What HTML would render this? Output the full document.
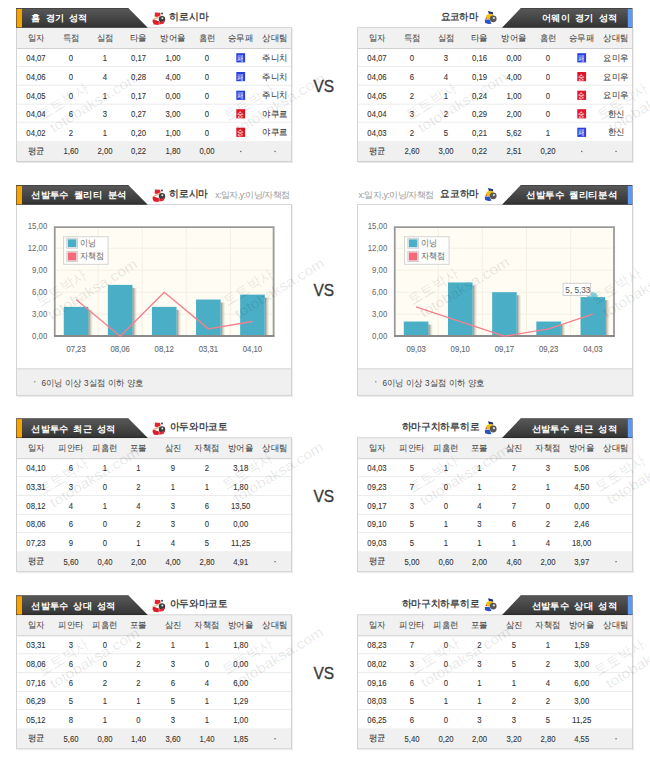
<!DOCTYPE html>
<html><head><meta charset="utf-8"><title>stats</title>
<style>
html,body{margin:0;padding:0;background:#fff;}
body{width:650px;height:767px;overflow:hidden;position:relative;font-family:"Liberation Sans", sans-serif;}
</style></head><body>
<svg width="650" height="767" viewBox="0 0 650 767" style="position:absolute;left:0;top:0" font-family='"Liberation Sans", sans-serif'><defs><linearGradient id="hg" x1="0" y1="0" x2="0" y2="1"><stop offset="0" stop-color="#3c3c3c"/><stop offset="0.07" stop-color="#565656"/><stop offset="0.9" stop-color="#373737"/><stop offset="1" stop-color="#262626"/></linearGradient><linearGradient id="sh" x1="0" y1="0" x2="1" y2="0"><stop offset="0" stop-color="#77736a" stop-opacity="0.9"/><stop offset="1" stop-color="#c8c2b0" stop-opacity="0.05"/></linearGradient></defs><g transform="translate(152,11.4)"><path d="M1,0.5 L2.6,1 L2,2.6 Z" fill="#c8e4f0"/><path d="M3,1 L8.2,1.3 L8.6,4.2 L5.2,5.7 L2.6,5 Z" fill="#e2262f"/><circle cx="10" cy="2" r="1" fill="#1f4f55"/><path d="M1.5,7.2 L8.2,4.2 L8.8,5.6 L2.2,8.4 Z" fill="#e6b58a"/><circle cx="10" cy="7.8" r="3.2" fill="#3c3c3c"/><circle cx="10.3" cy="6.9" r="1" fill="#e8e8e8"/><path d="M0.8,7.8 L7,9.8 L6.7,13.5 L1.9,13.1 L0.6,10.5 Z" fill="#dc1e2a"/><path d="M7,10.9 L13,9 L11.5,12.4 L7.4,13.1 Z" fill="#e02a34"/></g><text x="169.12" y="19.90" font-size="9.6" fill="#444" font-weight="bold" textLength="39.36" lengthAdjust="spacingAndGlyphs" >히로시마</text><g transform="translate(484.5,11.0)"><path d="M3.5,0 L8.5,1.2 L8.7,3.4 L4.5,3.2 Z" fill="#1e2d7a"/><path d="M2,4 L6,2.6 L9,4 L8,8.6 L3.5,8.2 L1.5,6.5 Z" fill="#f0c010"/><circle cx="1.8" cy="7.2" r="0.8" fill="#d84020"/><circle cx="8.7" cy="7.8" r="3.4" fill="#585858"/><circle cx="9.4" cy="7" r="1.1" fill="#e0e0e0"/><path d="M0.3,8.6 L5,8.6 L7,12.8 L4,13 L0.6,12 Z" fill="#2a52c0"/></g><text x="440.52" y="19.90" font-size="9.6" fill="#444" font-weight="bold" textLength="37.96" lengthAdjust="spacingAndGlyphs" >요코하마</text><rect x="16" y="27" width="276" height="21.50" fill="#f1f1f1"/><rect x="16" y="141.00" width="276" height="20.50" fill="#f0f0f0"/><path d="M16,48.50 H292" stroke="#d0d0d0" stroke-width="1"/><path d="M16,66.50 H292" stroke="#ececec" stroke-width="1"/><path d="M16,85.30 H292" stroke="#ececec" stroke-width="1"/><path d="M16,104.20 H292" stroke="#ececec" stroke-width="1"/><path d="M16,122.20 H292" stroke="#ececec" stroke-width="1"/><path d="M16.5,27 V161.5" stroke="#d4d4d4" stroke-width="1"/><path d="M291.5,27 V162.0" stroke="#d4d4d4" stroke-width="1"/><path d="M292.5,28 V163.0" stroke="#eeeeee" stroke-width="1"/><path d="M16,27.5 H292" stroke="#d8d8d8" stroke-width="1"/><path d="M16,161.5 H292" stroke="#d0d0d0" stroke-width="1"/><path d="M17,162.5 H293" stroke="#eaeaea" stroke-width="1"/><text x="36.00" y="40.90" font-size="9.2" fill="#444" stroke="#444" stroke-width="0.05" text-anchor="middle" font-weight="normal" textLength="16.80" lengthAdjust="spacingAndGlyphs">일자</text><text x="71.00" y="40.90" font-size="9.2" fill="#444" stroke="#444" stroke-width="0.05" text-anchor="middle" font-weight="normal" textLength="16.80" lengthAdjust="spacingAndGlyphs">득점</text><text x="105.00" y="40.90" font-size="9.2" fill="#444" stroke="#444" stroke-width="0.05" text-anchor="middle" font-weight="normal" textLength="16.80" lengthAdjust="spacingAndGlyphs">실점</text><text x="138.50" y="40.90" font-size="9.2" fill="#444" stroke="#444" stroke-width="0.05" text-anchor="middle" font-weight="normal" textLength="16.80" lengthAdjust="spacingAndGlyphs">타율</text><text x="173.00" y="40.90" font-size="9.2" fill="#444" stroke="#444" stroke-width="0.05" text-anchor="middle" font-weight="normal" textLength="25.20" lengthAdjust="spacingAndGlyphs">방어율</text><text x="207.00" y="40.90" font-size="9.2" fill="#444" stroke="#444" stroke-width="0.05" text-anchor="middle" font-weight="normal" textLength="16.80" lengthAdjust="spacingAndGlyphs">홈런</text><text x="240.70" y="40.90" font-size="9.2" fill="#444" stroke="#444" stroke-width="0.05" text-anchor="middle" font-weight="normal" textLength="25.20" lengthAdjust="spacingAndGlyphs">승무패</text><text x="275.00" y="40.90" font-size="9.2" fill="#444" stroke="#444" stroke-width="0.05" text-anchor="middle" font-weight="normal" textLength="25.20" lengthAdjust="spacingAndGlyphs">상대팀</text><text x="36.00" y="61.00" font-size="9.2" fill="#333" stroke="#333" stroke-width="0.1" text-anchor="middle" font-weight="normal" textLength="19.30" lengthAdjust="spacingAndGlyphs">04,07</text><text x="71.00" y="61.00" font-size="9.2" fill="#333" stroke="#333" stroke-width="0.1" text-anchor="middle" font-weight="normal" textLength="4.30" lengthAdjust="spacingAndGlyphs">0</text><text x="105.00" y="61.00" font-size="9.2" fill="#333" stroke="#333" stroke-width="0.1" text-anchor="middle" font-weight="normal" textLength="4.30" lengthAdjust="spacingAndGlyphs">1</text><text x="138.50" y="61.00" font-size="9.2" fill="#333" stroke="#333" stroke-width="0.1" text-anchor="middle" font-weight="normal" textLength="15.00" lengthAdjust="spacingAndGlyphs">0,17</text><text x="173.00" y="61.00" font-size="9.2" fill="#333" stroke="#333" stroke-width="0.1" text-anchor="middle" font-weight="normal" textLength="15.00" lengthAdjust="spacingAndGlyphs">1,00</text><text x="207.00" y="61.00" font-size="9.2" fill="#333" stroke="#333" stroke-width="0.1" text-anchor="middle" font-weight="normal" textLength="4.30" lengthAdjust="spacingAndGlyphs">0</text><rect x="236.30" y="53.20" width="8.8" height="9.2" fill="#2840dc"/><text x="240.70" y="60.80" font-size="7.5" fill="#fff" text-anchor="middle" textLength="6.6" lengthAdjust="spacingAndGlyphs">패</text><text x="275.00" y="60.70" font-size="9.2" fill="#333" stroke="#333" stroke-width="0.05" text-anchor="middle" font-weight="normal" textLength="25.20" lengthAdjust="spacingAndGlyphs">주니치</text><text x="36.00" y="79.80" font-size="9.2" fill="#333" stroke="#333" stroke-width="0.1" text-anchor="middle" font-weight="normal" textLength="19.30" lengthAdjust="spacingAndGlyphs">04,06</text><text x="71.00" y="79.80" font-size="9.2" fill="#333" stroke="#333" stroke-width="0.1" text-anchor="middle" font-weight="normal" textLength="4.30" lengthAdjust="spacingAndGlyphs">0</text><text x="105.00" y="79.80" font-size="9.2" fill="#333" stroke="#333" stroke-width="0.1" text-anchor="middle" font-weight="normal" textLength="4.30" lengthAdjust="spacingAndGlyphs">4</text><text x="138.50" y="79.80" font-size="9.2" fill="#333" stroke="#333" stroke-width="0.1" text-anchor="middle" font-weight="normal" textLength="15.00" lengthAdjust="spacingAndGlyphs">0,28</text><text x="173.00" y="79.80" font-size="9.2" fill="#333" stroke="#333" stroke-width="0.1" text-anchor="middle" font-weight="normal" textLength="15.00" lengthAdjust="spacingAndGlyphs">4,00</text><text x="207.00" y="79.80" font-size="9.2" fill="#333" stroke="#333" stroke-width="0.1" text-anchor="middle" font-weight="normal" textLength="4.30" lengthAdjust="spacingAndGlyphs">0</text><rect x="236.30" y="72.00" width="8.8" height="9.2" fill="#2840dc"/><text x="240.70" y="79.60" font-size="7.5" fill="#fff" text-anchor="middle" textLength="6.6" lengthAdjust="spacingAndGlyphs">패</text><text x="275.00" y="79.50" font-size="9.2" fill="#333" stroke="#333" stroke-width="0.05" text-anchor="middle" font-weight="normal" textLength="25.20" lengthAdjust="spacingAndGlyphs">주니치</text><text x="36.00" y="98.50" font-size="9.2" fill="#333" stroke="#333" stroke-width="0.1" text-anchor="middle" font-weight="normal" textLength="19.30" lengthAdjust="spacingAndGlyphs">04,05</text><text x="71.00" y="98.50" font-size="9.2" fill="#333" stroke="#333" stroke-width="0.1" text-anchor="middle" font-weight="normal" textLength="4.30" lengthAdjust="spacingAndGlyphs">0</text><text x="105.00" y="98.50" font-size="9.2" fill="#333" stroke="#333" stroke-width="0.1" text-anchor="middle" font-weight="normal" textLength="4.30" lengthAdjust="spacingAndGlyphs">1</text><text x="138.50" y="98.50" font-size="9.2" fill="#333" stroke="#333" stroke-width="0.1" text-anchor="middle" font-weight="normal" textLength="15.00" lengthAdjust="spacingAndGlyphs">0,17</text><text x="173.00" y="98.50" font-size="9.2" fill="#333" stroke="#333" stroke-width="0.1" text-anchor="middle" font-weight="normal" textLength="15.00" lengthAdjust="spacingAndGlyphs">0,00</text><text x="207.00" y="98.50" font-size="9.2" fill="#333" stroke="#333" stroke-width="0.1" text-anchor="middle" font-weight="normal" textLength="4.30" lengthAdjust="spacingAndGlyphs">0</text><rect x="236.30" y="90.70" width="8.8" height="9.2" fill="#2840dc"/><text x="240.70" y="98.30" font-size="7.5" fill="#fff" text-anchor="middle" textLength="6.6" lengthAdjust="spacingAndGlyphs">패</text><text x="275.00" y="98.20" font-size="9.2" fill="#333" stroke="#333" stroke-width="0.05" text-anchor="middle" font-weight="normal" textLength="25.20" lengthAdjust="spacingAndGlyphs">주니치</text><text x="36.00" y="117.00" font-size="9.2" fill="#333" stroke="#333" stroke-width="0.1" text-anchor="middle" font-weight="normal" textLength="19.30" lengthAdjust="spacingAndGlyphs">04,04</text><text x="71.00" y="117.00" font-size="9.2" fill="#333" stroke="#333" stroke-width="0.1" text-anchor="middle" font-weight="normal" textLength="4.30" lengthAdjust="spacingAndGlyphs">6</text><text x="105.00" y="117.00" font-size="9.2" fill="#333" stroke="#333" stroke-width="0.1" text-anchor="middle" font-weight="normal" textLength="4.30" lengthAdjust="spacingAndGlyphs">3</text><text x="138.50" y="117.00" font-size="9.2" fill="#333" stroke="#333" stroke-width="0.1" text-anchor="middle" font-weight="normal" textLength="15.00" lengthAdjust="spacingAndGlyphs">0,27</text><text x="173.00" y="117.00" font-size="9.2" fill="#333" stroke="#333" stroke-width="0.1" text-anchor="middle" font-weight="normal" textLength="15.00" lengthAdjust="spacingAndGlyphs">3,00</text><text x="207.00" y="117.00" font-size="9.2" fill="#333" stroke="#333" stroke-width="0.1" text-anchor="middle" font-weight="normal" textLength="4.30" lengthAdjust="spacingAndGlyphs">0</text><rect x="236.30" y="109.20" width="8.8" height="9.2" fill="#e01528"/><text x="240.70" y="116.80" font-size="7.5" fill="#fff" text-anchor="middle" textLength="6.6" lengthAdjust="spacingAndGlyphs">승</text><text x="275.00" y="116.70" font-size="9.2" fill="#333" stroke="#333" stroke-width="0.05" text-anchor="middle" font-weight="normal" textLength="25.20" lengthAdjust="spacingAndGlyphs">야쿠르</text><text x="36.00" y="135.50" font-size="9.2" fill="#333" stroke="#333" stroke-width="0.1" text-anchor="middle" font-weight="normal" textLength="19.30" lengthAdjust="spacingAndGlyphs">04,02</text><text x="71.00" y="135.50" font-size="9.2" fill="#333" stroke="#333" stroke-width="0.1" text-anchor="middle" font-weight="normal" textLength="4.30" lengthAdjust="spacingAndGlyphs">2</text><text x="105.00" y="135.50" font-size="9.2" fill="#333" stroke="#333" stroke-width="0.1" text-anchor="middle" font-weight="normal" textLength="4.30" lengthAdjust="spacingAndGlyphs">1</text><text x="138.50" y="135.50" font-size="9.2" fill="#333" stroke="#333" stroke-width="0.1" text-anchor="middle" font-weight="normal" textLength="15.00" lengthAdjust="spacingAndGlyphs">0,20</text><text x="173.00" y="135.50" font-size="9.2" fill="#333" stroke="#333" stroke-width="0.1" text-anchor="middle" font-weight="normal" textLength="15.00" lengthAdjust="spacingAndGlyphs">1,00</text><text x="207.00" y="135.50" font-size="9.2" fill="#333" stroke="#333" stroke-width="0.1" text-anchor="middle" font-weight="normal" textLength="4.30" lengthAdjust="spacingAndGlyphs">0</text><rect x="236.30" y="127.70" width="8.8" height="9.2" fill="#e01528"/><text x="240.70" y="135.30" font-size="7.5" fill="#fff" text-anchor="middle" textLength="6.6" lengthAdjust="spacingAndGlyphs">승</text><text x="275.00" y="135.20" font-size="9.2" fill="#333" stroke="#333" stroke-width="0.05" text-anchor="middle" font-weight="normal" textLength="25.20" lengthAdjust="spacingAndGlyphs">야쿠르</text><text x="36.00" y="154.00" font-size="9.2" fill="#333" stroke="#333" stroke-width="0.05" text-anchor="middle" font-weight="normal" textLength="16.80" lengthAdjust="spacingAndGlyphs">평균</text><text x="71.00" y="154.30" font-size="9.2" fill="#333" stroke="#333" stroke-width="0.1" text-anchor="middle" font-weight="normal" textLength="15.00" lengthAdjust="spacingAndGlyphs">1,60</text><text x="105.00" y="154.30" font-size="9.2" fill="#333" stroke="#333" stroke-width="0.1" text-anchor="middle" font-weight="normal" textLength="15.00" lengthAdjust="spacingAndGlyphs">2,00</text><text x="138.50" y="154.30" font-size="9.2" fill="#333" stroke="#333" stroke-width="0.1" text-anchor="middle" font-weight="normal" textLength="15.00" lengthAdjust="spacingAndGlyphs">0,22</text><text x="173.00" y="154.30" font-size="9.2" fill="#333" stroke="#333" stroke-width="0.1" text-anchor="middle" font-weight="normal" textLength="15.00" lengthAdjust="spacingAndGlyphs">1,80</text><text x="207.00" y="154.30" font-size="9.2" fill="#333" stroke="#333" stroke-width="0.1" text-anchor="middle" font-weight="normal" textLength="15.00" lengthAdjust="spacingAndGlyphs">0,00</text><rect x="240.10" y="150.80" width="1.3" height="1.3" fill="#666"/><rect x="274.40" y="150.80" width="1.3" height="1.3" fill="#666"/><rect x="357" y="27" width="276" height="21.50" fill="#f1f1f1"/><rect x="357" y="141.00" width="276" height="20.50" fill="#f0f0f0"/><path d="M357,48.50 H633" stroke="#d0d0d0" stroke-width="1"/><path d="M357,66.50 H633" stroke="#ececec" stroke-width="1"/><path d="M357,85.30 H633" stroke="#ececec" stroke-width="1"/><path d="M357,104.20 H633" stroke="#ececec" stroke-width="1"/><path d="M357,122.20 H633" stroke="#ececec" stroke-width="1"/><path d="M357.5,27 V161.5" stroke="#d4d4d4" stroke-width="1"/><path d="M632.5,27 V162.0" stroke="#d4d4d4" stroke-width="1"/><path d="M633.5,28 V163.0" stroke="#eeeeee" stroke-width="1"/><path d="M357,27.5 H633" stroke="#d8d8d8" stroke-width="1"/><path d="M357,161.5 H633" stroke="#d0d0d0" stroke-width="1"/><path d="M358,162.5 H634" stroke="#eaeaea" stroke-width="1"/><text x="377.00" y="40.90" font-size="9.2" fill="#444" stroke="#444" stroke-width="0.05" text-anchor="middle" font-weight="normal" textLength="16.80" lengthAdjust="spacingAndGlyphs">일자</text><text x="412.00" y="40.90" font-size="9.2" fill="#444" stroke="#444" stroke-width="0.05" text-anchor="middle" font-weight="normal" textLength="16.80" lengthAdjust="spacingAndGlyphs">득점</text><text x="446.00" y="40.90" font-size="9.2" fill="#444" stroke="#444" stroke-width="0.05" text-anchor="middle" font-weight="normal" textLength="16.80" lengthAdjust="spacingAndGlyphs">실점</text><text x="479.50" y="40.90" font-size="9.2" fill="#444" stroke="#444" stroke-width="0.05" text-anchor="middle" font-weight="normal" textLength="16.80" lengthAdjust="spacingAndGlyphs">타율</text><text x="514.00" y="40.90" font-size="9.2" fill="#444" stroke="#444" stroke-width="0.05" text-anchor="middle" font-weight="normal" textLength="25.20" lengthAdjust="spacingAndGlyphs">방어율</text><text x="548.00" y="40.90" font-size="9.2" fill="#444" stroke="#444" stroke-width="0.05" text-anchor="middle" font-weight="normal" textLength="16.80" lengthAdjust="spacingAndGlyphs">홈런</text><text x="581.70" y="40.90" font-size="9.2" fill="#444" stroke="#444" stroke-width="0.05" text-anchor="middle" font-weight="normal" textLength="25.20" lengthAdjust="spacingAndGlyphs">승무패</text><text x="616.00" y="40.90" font-size="9.2" fill="#444" stroke="#444" stroke-width="0.05" text-anchor="middle" font-weight="normal" textLength="25.20" lengthAdjust="spacingAndGlyphs">상대팀</text><text x="377.00" y="61.00" font-size="9.2" fill="#333" stroke="#333" stroke-width="0.1" text-anchor="middle" font-weight="normal" textLength="19.30" lengthAdjust="spacingAndGlyphs">04,07</text><text x="412.00" y="61.00" font-size="9.2" fill="#333" stroke="#333" stroke-width="0.1" text-anchor="middle" font-weight="normal" textLength="4.30" lengthAdjust="spacingAndGlyphs">0</text><text x="446.00" y="61.00" font-size="9.2" fill="#333" stroke="#333" stroke-width="0.1" text-anchor="middle" font-weight="normal" textLength="4.30" lengthAdjust="spacingAndGlyphs">3</text><text x="479.50" y="61.00" font-size="9.2" fill="#333" stroke="#333" stroke-width="0.1" text-anchor="middle" font-weight="normal" textLength="15.00" lengthAdjust="spacingAndGlyphs">0,16</text><text x="514.00" y="61.00" font-size="9.2" fill="#333" stroke="#333" stroke-width="0.1" text-anchor="middle" font-weight="normal" textLength="15.00" lengthAdjust="spacingAndGlyphs">0,00</text><text x="548.00" y="61.00" font-size="9.2" fill="#333" stroke="#333" stroke-width="0.1" text-anchor="middle" font-weight="normal" textLength="4.30" lengthAdjust="spacingAndGlyphs">0</text><rect x="577.30" y="53.20" width="8.8" height="9.2" fill="#2840dc"/><text x="581.70" y="60.80" font-size="7.5" fill="#fff" text-anchor="middle" textLength="6.6" lengthAdjust="spacingAndGlyphs">패</text><text x="616.00" y="60.70" font-size="9.2" fill="#333" stroke="#333" stroke-width="0.05" text-anchor="middle" font-weight="normal" textLength="25.20" lengthAdjust="spacingAndGlyphs">요미우</text><text x="377.00" y="79.80" font-size="9.2" fill="#333" stroke="#333" stroke-width="0.1" text-anchor="middle" font-weight="normal" textLength="19.30" lengthAdjust="spacingAndGlyphs">04,06</text><text x="412.00" y="79.80" font-size="9.2" fill="#333" stroke="#333" stroke-width="0.1" text-anchor="middle" font-weight="normal" textLength="4.30" lengthAdjust="spacingAndGlyphs">6</text><text x="446.00" y="79.80" font-size="9.2" fill="#333" stroke="#333" stroke-width="0.1" text-anchor="middle" font-weight="normal" textLength="4.30" lengthAdjust="spacingAndGlyphs">4</text><text x="479.50" y="79.80" font-size="9.2" fill="#333" stroke="#333" stroke-width="0.1" text-anchor="middle" font-weight="normal" textLength="15.00" lengthAdjust="spacingAndGlyphs">0,19</text><text x="514.00" y="79.80" font-size="9.2" fill="#333" stroke="#333" stroke-width="0.1" text-anchor="middle" font-weight="normal" textLength="15.00" lengthAdjust="spacingAndGlyphs">4,00</text><text x="548.00" y="79.80" font-size="9.2" fill="#333" stroke="#333" stroke-width="0.1" text-anchor="middle" font-weight="normal" textLength="4.30" lengthAdjust="spacingAndGlyphs">0</text><rect x="577.30" y="72.00" width="8.8" height="9.2" fill="#e01528"/><text x="581.70" y="79.60" font-size="7.5" fill="#fff" text-anchor="middle" textLength="6.6" lengthAdjust="spacingAndGlyphs">승</text><text x="616.00" y="79.50" font-size="9.2" fill="#333" stroke="#333" stroke-width="0.05" text-anchor="middle" font-weight="normal" textLength="25.20" lengthAdjust="spacingAndGlyphs">요미우</text><text x="377.00" y="98.50" font-size="9.2" fill="#333" stroke="#333" stroke-width="0.1" text-anchor="middle" font-weight="normal" textLength="19.30" lengthAdjust="spacingAndGlyphs">04,05</text><text x="412.00" y="98.50" font-size="9.2" fill="#333" stroke="#333" stroke-width="0.1" text-anchor="middle" font-weight="normal" textLength="4.30" lengthAdjust="spacingAndGlyphs">2</text><text x="446.00" y="98.50" font-size="9.2" fill="#333" stroke="#333" stroke-width="0.1" text-anchor="middle" font-weight="normal" textLength="4.30" lengthAdjust="spacingAndGlyphs">1</text><text x="479.50" y="98.50" font-size="9.2" fill="#333" stroke="#333" stroke-width="0.1" text-anchor="middle" font-weight="normal" textLength="15.00" lengthAdjust="spacingAndGlyphs">0,24</text><text x="514.00" y="98.50" font-size="9.2" fill="#333" stroke="#333" stroke-width="0.1" text-anchor="middle" font-weight="normal" textLength="15.00" lengthAdjust="spacingAndGlyphs">1,00</text><text x="548.00" y="98.50" font-size="9.2" fill="#333" stroke="#333" stroke-width="0.1" text-anchor="middle" font-weight="normal" textLength="4.30" lengthAdjust="spacingAndGlyphs">0</text><rect x="577.30" y="90.70" width="8.8" height="9.2" fill="#e01528"/><text x="581.70" y="98.30" font-size="7.5" fill="#fff" text-anchor="middle" textLength="6.6" lengthAdjust="spacingAndGlyphs">승</text><text x="616.00" y="98.20" font-size="9.2" fill="#333" stroke="#333" stroke-width="0.05" text-anchor="middle" font-weight="normal" textLength="25.20" lengthAdjust="spacingAndGlyphs">요미우</text><text x="377.00" y="117.00" font-size="9.2" fill="#333" stroke="#333" stroke-width="0.1" text-anchor="middle" font-weight="normal" textLength="19.30" lengthAdjust="spacingAndGlyphs">04,04</text><text x="412.00" y="117.00" font-size="9.2" fill="#333" stroke="#333" stroke-width="0.1" text-anchor="middle" font-weight="normal" textLength="4.30" lengthAdjust="spacingAndGlyphs">3</text><text x="446.00" y="117.00" font-size="9.2" fill="#333" stroke="#333" stroke-width="0.1" text-anchor="middle" font-weight="normal" textLength="4.30" lengthAdjust="spacingAndGlyphs">2</text><text x="479.50" y="117.00" font-size="9.2" fill="#333" stroke="#333" stroke-width="0.1" text-anchor="middle" font-weight="normal" textLength="15.00" lengthAdjust="spacingAndGlyphs">0,29</text><text x="514.00" y="117.00" font-size="9.2" fill="#333" stroke="#333" stroke-width="0.1" text-anchor="middle" font-weight="normal" textLength="15.00" lengthAdjust="spacingAndGlyphs">2,00</text><text x="548.00" y="117.00" font-size="9.2" fill="#333" stroke="#333" stroke-width="0.1" text-anchor="middle" font-weight="normal" textLength="4.30" lengthAdjust="spacingAndGlyphs">0</text><rect x="577.30" y="109.20" width="8.8" height="9.2" fill="#e01528"/><text x="581.70" y="116.80" font-size="7.5" fill="#fff" text-anchor="middle" textLength="6.6" lengthAdjust="spacingAndGlyphs">승</text><text x="616.00" y="116.70" font-size="9.2" fill="#333" stroke="#333" stroke-width="0.05" text-anchor="middle" font-weight="normal" textLength="16.80" lengthAdjust="spacingAndGlyphs">한신</text><text x="377.00" y="135.50" font-size="9.2" fill="#333" stroke="#333" stroke-width="0.1" text-anchor="middle" font-weight="normal" textLength="19.30" lengthAdjust="spacingAndGlyphs">04,03</text><text x="412.00" y="135.50" font-size="9.2" fill="#333" stroke="#333" stroke-width="0.1" text-anchor="middle" font-weight="normal" textLength="4.30" lengthAdjust="spacingAndGlyphs">2</text><text x="446.00" y="135.50" font-size="9.2" fill="#333" stroke="#333" stroke-width="0.1" text-anchor="middle" font-weight="normal" textLength="4.30" lengthAdjust="spacingAndGlyphs">5</text><text x="479.50" y="135.50" font-size="9.2" fill="#333" stroke="#333" stroke-width="0.1" text-anchor="middle" font-weight="normal" textLength="15.00" lengthAdjust="spacingAndGlyphs">0,21</text><text x="514.00" y="135.50" font-size="9.2" fill="#333" stroke="#333" stroke-width="0.1" text-anchor="middle" font-weight="normal" textLength="15.00" lengthAdjust="spacingAndGlyphs">5,62</text><text x="548.00" y="135.50" font-size="9.2" fill="#333" stroke="#333" stroke-width="0.1" text-anchor="middle" font-weight="normal" textLength="4.30" lengthAdjust="spacingAndGlyphs">1</text><rect x="577.30" y="127.70" width="8.8" height="9.2" fill="#2840dc"/><text x="581.70" y="135.30" font-size="7.5" fill="#fff" text-anchor="middle" textLength="6.6" lengthAdjust="spacingAndGlyphs">패</text><text x="616.00" y="135.20" font-size="9.2" fill="#333" stroke="#333" stroke-width="0.05" text-anchor="middle" font-weight="normal" textLength="16.80" lengthAdjust="spacingAndGlyphs">한신</text><text x="377.00" y="154.00" font-size="9.2" fill="#333" stroke="#333" stroke-width="0.05" text-anchor="middle" font-weight="normal" textLength="16.80" lengthAdjust="spacingAndGlyphs">평균</text><text x="412.00" y="154.30" font-size="9.2" fill="#333" stroke="#333" stroke-width="0.1" text-anchor="middle" font-weight="normal" textLength="15.00" lengthAdjust="spacingAndGlyphs">2,60</text><text x="446.00" y="154.30" font-size="9.2" fill="#333" stroke="#333" stroke-width="0.1" text-anchor="middle" font-weight="normal" textLength="15.00" lengthAdjust="spacingAndGlyphs">3,00</text><text x="479.50" y="154.30" font-size="9.2" fill="#333" stroke="#333" stroke-width="0.1" text-anchor="middle" font-weight="normal" textLength="15.00" lengthAdjust="spacingAndGlyphs">0,22</text><text x="514.00" y="154.30" font-size="9.2" fill="#333" stroke="#333" stroke-width="0.1" text-anchor="middle" font-weight="normal" textLength="15.00" lengthAdjust="spacingAndGlyphs">2,51</text><text x="548.00" y="154.30" font-size="9.2" fill="#333" stroke="#333" stroke-width="0.1" text-anchor="middle" font-weight="normal" textLength="15.00" lengthAdjust="spacingAndGlyphs">0,20</text><rect x="581.10" y="150.80" width="1.3" height="1.3" fill="#666"/><rect x="615.40" y="150.80" width="1.3" height="1.3" fill="#666"/><g transform="translate(152,188.4)"><path d="M1,0.5 L2.6,1 L2,2.6 Z" fill="#c8e4f0"/><path d="M3,1 L8.2,1.3 L8.6,4.2 L5.2,5.7 L2.6,5 Z" fill="#e2262f"/><circle cx="10" cy="2" r="1" fill="#1f4f55"/><path d="M1.5,7.2 L8.2,4.2 L8.8,5.6 L2.2,8.4 Z" fill="#e6b58a"/><circle cx="10" cy="7.8" r="3.2" fill="#3c3c3c"/><circle cx="10.3" cy="6.9" r="1" fill="#e8e8e8"/><path d="M0.8,7.8 L7,9.8 L6.7,13.5 L1.9,13.1 L0.6,10.5 Z" fill="#dc1e2a"/><path d="M7,10.9 L13,9 L11.5,12.4 L7.4,13.1 Z" fill="#e02a34"/></g><text x="169.12" y="196.90" font-size="9.6" fill="#444" font-weight="bold" textLength="39.06" lengthAdjust="spacingAndGlyphs" >히로시마</text><text x="215.37" y="197.60" font-size="8.6" fill="#9a9a9a" font-weight="normal" textLength="74.66" lengthAdjust="spacing" >x:일자,y:이닝/자책점</text><g transform="translate(484.5,188.0)"><path d="M3.5,0 L8.5,1.2 L8.7,3.4 L4.5,3.2 Z" fill="#1e2d7a"/><path d="M2,4 L6,2.6 L9,4 L8,8.6 L3.5,8.2 L1.5,6.5 Z" fill="#f0c010"/><circle cx="1.8" cy="7.2" r="0.8" fill="#d84020"/><circle cx="8.7" cy="7.8" r="3.4" fill="#585858"/><circle cx="9.4" cy="7" r="1.1" fill="#e0e0e0"/><path d="M0.3,8.6 L5,8.6 L7,12.8 L4,13 L0.6,12 Z" fill="#2a52c0"/></g><text x="440.32" y="196.90" font-size="9.6" fill="#444" font-weight="bold" textLength="38.66" lengthAdjust="spacingAndGlyphs" >요코하마</text><text x="358.57" y="197.60" font-size="8.6" fill="#9a9a9a" font-weight="normal" textLength="75.86" lengthAdjust="spacing" >x:일자,y:이닝/자책점</text><rect x="16" y="368.30" width="276" height="27.10" fill="#f0f0f0"/><path d="M16,368.80 H292" stroke="#d8d8d8"/><path d="M16.5,204 V395.4" stroke="#d4d4d4" stroke-width="1"/><path d="M291.5,204 V395.9" stroke="#d4d4d4" stroke-width="1"/><path d="M292.5,205 V396.9" stroke="#eeeeee" stroke-width="1"/><path d="M16,204.5 H292" stroke="#d8d8d8" stroke-width="1"/><path d="M16,395.4 H292" stroke="#d0d0d0" stroke-width="1"/><path d="M17,396.4 H293" stroke="#eaeaea" stroke-width="1"/><rect x="54" y="226.20" width="220.5" height="110.00" fill="#fffcf3"/><path d="M98.10,226.20 V336.20" stroke="#f3efe4" stroke-width="1"/><path d="M142.20,226.20 V336.20" stroke="#f3efe4" stroke-width="1"/><path d="M186.30,226.20 V336.20" stroke="#f3efe4" stroke-width="1"/><path d="M230.40,226.20 V336.20" stroke="#f3efe4" stroke-width="1"/><path d="M54,314.20 H274.5" stroke="#f3efe4" stroke-width="1"/><path d="M54,292.20 H274.5" stroke="#f3efe4" stroke-width="1"/><path d="M54,270.20 H274.5" stroke="#f3efe4" stroke-width="1"/><path d="M54,248.20 H274.5" stroke="#f3efe4" stroke-width="1"/><rect x="88.35" y="309.87" width="4.5" height="26.33" fill="url(#sh)"/><rect x="63.75" y="306.87" width="24.6" height="29.33" fill="#4aafc6"/><rect x="132.45" y="287.87" width="4.5" height="48.33" fill="url(#sh)"/><rect x="107.85" y="284.87" width="24.6" height="51.33" fill="#4aafc6"/><rect x="176.55" y="309.87" width="4.5" height="26.33" fill="url(#sh)"/><rect x="151.95" y="306.87" width="24.6" height="29.33" fill="#4aafc6"/><rect x="220.65" y="302.53" width="4.5" height="33.67" fill="url(#sh)"/><rect x="196.05" y="299.53" width="24.6" height="36.67" fill="#4aafc6"/><rect x="264.75" y="297.62" width="4.5" height="38.58" fill="url(#sh)"/><rect x="240.15" y="294.62" width="24.6" height="41.58" fill="#4aafc6"/><path d="M54.75,336.20 V227.10 H273.6 V336.20" fill="none" stroke="#9a9a9a" stroke-width="1.8"/><path d="M54,336.00 H274.5" stroke="#8a8a8a" stroke-width="1.8"/><polyline points="76.05,299.53 120.15,336.20 164.25,292.20 208.35,328.87 252.45,321.53" fill="none" stroke="#f3808e" stroke-width="1.35" stroke-linejoin="round"/><text x="32.06" y="339.30" font-size="8.8" fill="#666" font-weight="normal" textLength="15.18" lengthAdjust="spacingAndGlyphs" >0,00</text><text x="32.06" y="317.30" font-size="8.8" fill="#666" font-weight="normal" textLength="15.18" lengthAdjust="spacingAndGlyphs" >3,00</text><text x="32.06" y="295.30" font-size="8.8" fill="#666" font-weight="normal" textLength="15.18" lengthAdjust="spacingAndGlyphs" >6,00</text><text x="32.06" y="273.30" font-size="8.8" fill="#666" font-weight="normal" textLength="15.18" lengthAdjust="spacingAndGlyphs" >9,00</text><text x="27.76" y="251.30" font-size="8.8" fill="#666" font-weight="normal" textLength="19.48" lengthAdjust="spacingAndGlyphs" >12,00</text><text x="27.76" y="229.30" font-size="8.8" fill="#666" font-weight="normal" textLength="19.48" lengthAdjust="spacingAndGlyphs" >15,00</text><text x="76.05" y="352.00" font-size="8.8" fill="#666" stroke="#666" stroke-width="0.1" text-anchor="middle" font-weight="normal" textLength="19.30" lengthAdjust="spacingAndGlyphs">07,23</text><text x="120.15" y="352.00" font-size="8.8" fill="#666" stroke="#666" stroke-width="0.1" text-anchor="middle" font-weight="normal" textLength="19.30" lengthAdjust="spacingAndGlyphs">08,06</text><text x="164.25" y="352.00" font-size="8.8" fill="#666" stroke="#666" stroke-width="0.1" text-anchor="middle" font-weight="normal" textLength="19.30" lengthAdjust="spacingAndGlyphs">08,12</text><text x="208.35" y="352.00" font-size="8.8" fill="#666" stroke="#666" stroke-width="0.1" text-anchor="middle" font-weight="normal" textLength="19.30" lengthAdjust="spacingAndGlyphs">03,31</text><text x="252.45" y="352.00" font-size="8.8" fill="#666" stroke="#666" stroke-width="0.1" text-anchor="middle" font-weight="normal" textLength="19.30" lengthAdjust="spacingAndGlyphs">04,10</text><rect x="63.60" y="236.70" width="44.5" height="27.6" fill="#fefefc" stroke="#d4d4d4"/><rect x="66.80" y="238.30" width="10.6" height="9.9" fill="#fff" stroke="#d0d0d0" stroke-width="1"/><rect x="67.80" y="239.30" width="8.6" height="7.9" fill="#4aafc6"/><rect x="66.80" y="251.40" width="10.6" height="10.1" fill="#fff" stroke="#d0d0d0" stroke-width="1"/><rect x="67.80" y="252.40" width="8.6" height="8.1" fill="#f46a7c"/><text x="80.16" y="245.60" font-size="8.8" fill="#666" font-weight="normal" textLength="16.18" lengthAdjust="spacingAndGlyphs" >이닝</text><text x="80.16" y="259.00" font-size="8.8" fill="#666" font-weight="normal" textLength="24.48" lengthAdjust="spacingAndGlyphs" >자책점</text><rect x="34.10" y="381.10" width="1.3" height="1.3" fill="#888"/><text x="41.56" y="385.90" font-size="8.8" fill="#444" font-weight="normal" textLength="101.88" lengthAdjust="spacingAndGlyphs" >6이닝 이상 3실점 이하 양호</text><rect x="357" y="368.30" width="276" height="27.10" fill="#f0f0f0"/><path d="M357,368.80 H633" stroke="#d8d8d8"/><path d="M357.5,204 V395.4" stroke="#d4d4d4" stroke-width="1"/><path d="M632.5,204 V395.9" stroke="#d4d4d4" stroke-width="1"/><path d="M633.5,205 V396.9" stroke="#eeeeee" stroke-width="1"/><path d="M357,204.5 H633" stroke="#d8d8d8" stroke-width="1"/><path d="M357,395.4 H633" stroke="#d0d0d0" stroke-width="1"/><path d="M358,396.4 H634" stroke="#eaeaea" stroke-width="1"/><rect x="394" y="226.20" width="220.89999999999998" height="110.00" fill="#fffcf3"/><path d="M438.18,226.20 V336.20" stroke="#f3efe4" stroke-width="1"/><path d="M482.36,226.20 V336.20" stroke="#f3efe4" stroke-width="1"/><path d="M526.54,226.20 V336.20" stroke="#f3efe4" stroke-width="1"/><path d="M570.72,226.20 V336.20" stroke="#f3efe4" stroke-width="1"/><path d="M394,314.20 H614.9" stroke="#f3efe4" stroke-width="1"/><path d="M394,292.20 H614.9" stroke="#f3efe4" stroke-width="1"/><path d="M394,270.20 H614.9" stroke="#f3efe4" stroke-width="1"/><path d="M394,248.20 H614.9" stroke="#f3efe4" stroke-width="1"/><circle cx="592.4" cy="297.3" r="5.4" fill="#86cfdc"/><rect x="428.39" y="324.53" width="4.5" height="11.67" fill="url(#sh)"/><rect x="403.79" y="321.53" width="24.6" height="14.67" fill="#4aafc6"/><rect x="472.57" y="285.45" width="4.5" height="50.75" fill="url(#sh)"/><rect x="447.97" y="282.45" width="24.6" height="53.75" fill="#4aafc6"/><rect x="516.75" y="295.20" width="4.5" height="41.00" fill="url(#sh)"/><rect x="492.15" y="292.20" width="24.6" height="44.00" fill="#4aafc6"/><rect x="560.93" y="324.53" width="4.5" height="11.67" fill="url(#sh)"/><rect x="536.33" y="321.53" width="24.6" height="14.67" fill="#4aafc6"/><rect x="605.11" y="300.11" width="4.5" height="36.09" fill="url(#sh)"/><rect x="580.51" y="297.11" width="24.6" height="39.09" fill="#4aafc6"/><path d="M394.75,336.20 V227.10 H614.0 V336.20" fill="none" stroke="#9a9a9a" stroke-width="1.8"/><path d="M394,336.00 H614.9" stroke="#8a8a8a" stroke-width="1.8"/><polyline points="416.09,306.87 460.27,321.53 504.45,336.20 548.63,328.87 592.81,314.20" fill="none" stroke="#f3808e" stroke-width="1.35" stroke-linejoin="round"/><text x="372.06" y="339.30" font-size="8.8" fill="#666" font-weight="normal" textLength="15.18" lengthAdjust="spacingAndGlyphs" >0,00</text><text x="372.06" y="317.30" font-size="8.8" fill="#666" font-weight="normal" textLength="15.18" lengthAdjust="spacingAndGlyphs" >3,00</text><text x="372.06" y="295.30" font-size="8.8" fill="#666" font-weight="normal" textLength="15.18" lengthAdjust="spacingAndGlyphs" >6,00</text><text x="372.06" y="273.30" font-size="8.8" fill="#666" font-weight="normal" textLength="15.18" lengthAdjust="spacingAndGlyphs" >9,00</text><text x="367.76" y="251.30" font-size="8.8" fill="#666" font-weight="normal" textLength="19.48" lengthAdjust="spacingAndGlyphs" >12,00</text><text x="367.76" y="229.30" font-size="8.8" fill="#666" font-weight="normal" textLength="19.48" lengthAdjust="spacingAndGlyphs" >15,00</text><text x="416.09" y="352.00" font-size="8.8" fill="#666" stroke="#666" stroke-width="0.1" text-anchor="middle" font-weight="normal" textLength="19.30" lengthAdjust="spacingAndGlyphs">09,03</text><text x="460.27" y="352.00" font-size="8.8" fill="#666" stroke="#666" stroke-width="0.1" text-anchor="middle" font-weight="normal" textLength="19.30" lengthAdjust="spacingAndGlyphs">09,10</text><text x="504.45" y="352.00" font-size="8.8" fill="#666" stroke="#666" stroke-width="0.1" text-anchor="middle" font-weight="normal" textLength="19.30" lengthAdjust="spacingAndGlyphs">09,17</text><text x="548.63" y="352.00" font-size="8.8" fill="#666" stroke="#666" stroke-width="0.1" text-anchor="middle" font-weight="normal" textLength="19.30" lengthAdjust="spacingAndGlyphs">09,23</text><text x="592.81" y="352.00" font-size="8.8" fill="#666" stroke="#666" stroke-width="0.1" text-anchor="middle" font-weight="normal" textLength="19.30" lengthAdjust="spacingAndGlyphs">04,03</text><rect x="404.60" y="236.70" width="44.5" height="27.6" fill="#fefefc" stroke="#d4d4d4"/><rect x="407.80" y="238.30" width="10.6" height="9.9" fill="#fff" stroke="#d0d0d0" stroke-width="1"/><rect x="408.80" y="239.30" width="8.6" height="7.9" fill="#4aafc6"/><rect x="407.80" y="251.40" width="10.6" height="10.1" fill="#fff" stroke="#d0d0d0" stroke-width="1"/><rect x="408.80" y="252.40" width="8.6" height="8.1" fill="#f46a7c"/><text x="421.16" y="245.60" font-size="8.8" fill="#666" font-weight="normal" textLength="16.18" lengthAdjust="spacingAndGlyphs" >이닝</text><text x="421.16" y="259.00" font-size="8.8" fill="#666" font-weight="normal" textLength="24.48" lengthAdjust="spacingAndGlyphs" >자책점</text><rect x="375.10" y="381.10" width="1.3" height="1.3" fill="#888"/><text x="382.56" y="385.90" font-size="8.8" fill="#444" font-weight="normal" textLength="101.88" lengthAdjust="spacingAndGlyphs" >6이닝 이상 3실점 이하 양호</text><rect x="563.1" y="283.3" width="27.4" height="12.2" fill="#fff" stroke="#cfcfcf" stroke-width="1"/><text x="565.36" y="292.60" font-size="8.8" fill="#555" font-weight="normal" textLength="25.08" lengthAdjust="spacingAndGlyphs" >5, 5,33</text><g transform="translate(152,421.59999999999997)"><path d="M1,0.5 L2.6,1 L2,2.6 Z" fill="#c8e4f0"/><path d="M3,1 L8.2,1.3 L8.6,4.2 L5.2,5.7 L2.6,5 Z" fill="#e2262f"/><circle cx="10" cy="2" r="1" fill="#1f4f55"/><path d="M1.5,7.2 L8.2,4.2 L8.8,5.6 L2.2,8.4 Z" fill="#e6b58a"/><circle cx="10" cy="7.8" r="3.2" fill="#3c3c3c"/><circle cx="10.3" cy="6.9" r="1" fill="#e8e8e8"/><path d="M0.8,7.8 L7,9.8 L6.7,13.5 L1.9,13.1 L0.6,10.5 Z" fill="#dc1e2a"/><path d="M7,10.9 L13,9 L11.5,12.4 L7.4,13.1 Z" fill="#e02a34"/></g><text x="169.72" y="430.10" font-size="9.6" fill="#444" font-weight="bold" textLength="57.76" lengthAdjust="spacingAndGlyphs" >아두와마코토</text><g transform="translate(484.5,421.2)"><path d="M3.5,0 L8.5,1.2 L8.7,3.4 L4.5,3.2 Z" fill="#1e2d7a"/><path d="M2,4 L6,2.6 L9,4 L8,8.6 L3.5,8.2 L1.5,6.5 Z" fill="#f0c010"/><circle cx="1.8" cy="7.2" r="0.8" fill="#d84020"/><circle cx="8.7" cy="7.8" r="3.4" fill="#585858"/><circle cx="9.4" cy="7" r="1.1" fill="#e0e0e0"/><path d="M0.3,8.6 L5,8.6 L7,12.8 L4,13 L0.6,12 Z" fill="#2a52c0"/></g><text x="401.62" y="430.10" font-size="9.6" fill="#444" font-weight="bold" textLength="77.66" lengthAdjust="spacingAndGlyphs" >하마구치하루히로</text><rect x="16" y="437.2" width="276" height="21.50" fill="#f1f1f1"/><rect x="16" y="551.20" width="276" height="20.50" fill="#f0f0f0"/><path d="M16,458.70 H292" stroke="#d0d0d0" stroke-width="1"/><path d="M16,476.70 H292" stroke="#ececec" stroke-width="1"/><path d="M16,495.50 H292" stroke="#ececec" stroke-width="1"/><path d="M16,514.40 H292" stroke="#ececec" stroke-width="1"/><path d="M16,532.40 H292" stroke="#ececec" stroke-width="1"/><path d="M16.5,437.2 V571.7" stroke="#d4d4d4" stroke-width="1"/><path d="M291.5,437.2 V572.2" stroke="#d4d4d4" stroke-width="1"/><path d="M292.5,438.2 V573.2" stroke="#eeeeee" stroke-width="1"/><path d="M16,437.7 H292" stroke="#d8d8d8" stroke-width="1"/><path d="M16,571.7 H292" stroke="#d0d0d0" stroke-width="1"/><path d="M17,572.7 H293" stroke="#eaeaea" stroke-width="1"/><text x="36.00" y="451.10" font-size="9.2" fill="#444" stroke="#444" stroke-width="0.05" text-anchor="middle" font-weight="normal" textLength="16.80" lengthAdjust="spacingAndGlyphs">일자</text><text x="71.00" y="451.10" font-size="9.2" fill="#444" stroke="#444" stroke-width="0.05" text-anchor="middle" font-weight="normal" textLength="25.20" lengthAdjust="spacingAndGlyphs">피안타</text><text x="105.00" y="451.10" font-size="9.2" fill="#444" stroke="#444" stroke-width="0.05" text-anchor="middle" font-weight="normal" textLength="25.20" lengthAdjust="spacingAndGlyphs">피홈런</text><text x="138.50" y="451.10" font-size="9.2" fill="#444" stroke="#444" stroke-width="0.05" text-anchor="middle" font-weight="normal" textLength="16.80" lengthAdjust="spacingAndGlyphs">포볼</text><text x="173.00" y="451.10" font-size="9.2" fill="#444" stroke="#444" stroke-width="0.05" text-anchor="middle" font-weight="normal" textLength="16.80" lengthAdjust="spacingAndGlyphs">삼진</text><text x="207.00" y="451.10" font-size="9.2" fill="#444" stroke="#444" stroke-width="0.05" text-anchor="middle" font-weight="normal" textLength="25.20" lengthAdjust="spacingAndGlyphs">자책점</text><text x="240.70" y="451.10" font-size="9.2" fill="#444" stroke="#444" stroke-width="0.05" text-anchor="middle" font-weight="normal" textLength="25.20" lengthAdjust="spacingAndGlyphs">방어율</text><text x="275.00" y="451.10" font-size="9.2" fill="#444" stroke="#444" stroke-width="0.05" text-anchor="middle" font-weight="normal" textLength="25.20" lengthAdjust="spacingAndGlyphs">상대팀</text><text x="36.00" y="471.20" font-size="9.2" fill="#333" stroke="#333" stroke-width="0.1" text-anchor="middle" font-weight="normal" textLength="19.30" lengthAdjust="spacingAndGlyphs">04,10</text><text x="71.00" y="471.20" font-size="9.2" fill="#333" stroke="#333" stroke-width="0.1" text-anchor="middle" font-weight="normal" textLength="4.30" lengthAdjust="spacingAndGlyphs">6</text><text x="105.00" y="471.20" font-size="9.2" fill="#333" stroke="#333" stroke-width="0.1" text-anchor="middle" font-weight="normal" textLength="4.30" lengthAdjust="spacingAndGlyphs">1</text><text x="138.50" y="471.20" font-size="9.2" fill="#333" stroke="#333" stroke-width="0.1" text-anchor="middle" font-weight="normal" textLength="4.30" lengthAdjust="spacingAndGlyphs">1</text><text x="173.00" y="471.20" font-size="9.2" fill="#333" stroke="#333" stroke-width="0.1" text-anchor="middle" font-weight="normal" textLength="4.30" lengthAdjust="spacingAndGlyphs">9</text><text x="207.00" y="471.20" font-size="9.2" fill="#333" stroke="#333" stroke-width="0.1" text-anchor="middle" font-weight="normal" textLength="4.30" lengthAdjust="spacingAndGlyphs">2</text><text x="240.70" y="471.20" font-size="9.2" fill="#333" stroke="#333" stroke-width="0.1" text-anchor="middle" font-weight="normal" textLength="15.00" lengthAdjust="spacingAndGlyphs">3,18</text><text x="36.00" y="490.00" font-size="9.2" fill="#333" stroke="#333" stroke-width="0.1" text-anchor="middle" font-weight="normal" textLength="19.30" lengthAdjust="spacingAndGlyphs">03,31</text><text x="71.00" y="490.00" font-size="9.2" fill="#333" stroke="#333" stroke-width="0.1" text-anchor="middle" font-weight="normal" textLength="4.30" lengthAdjust="spacingAndGlyphs">3</text><text x="105.00" y="490.00" font-size="9.2" fill="#333" stroke="#333" stroke-width="0.1" text-anchor="middle" font-weight="normal" textLength="4.30" lengthAdjust="spacingAndGlyphs">0</text><text x="138.50" y="490.00" font-size="9.2" fill="#333" stroke="#333" stroke-width="0.1" text-anchor="middle" font-weight="normal" textLength="4.30" lengthAdjust="spacingAndGlyphs">2</text><text x="173.00" y="490.00" font-size="9.2" fill="#333" stroke="#333" stroke-width="0.1" text-anchor="middle" font-weight="normal" textLength="4.30" lengthAdjust="spacingAndGlyphs">1</text><text x="207.00" y="490.00" font-size="9.2" fill="#333" stroke="#333" stroke-width="0.1" text-anchor="middle" font-weight="normal" textLength="4.30" lengthAdjust="spacingAndGlyphs">1</text><text x="240.70" y="490.00" font-size="9.2" fill="#333" stroke="#333" stroke-width="0.1" text-anchor="middle" font-weight="normal" textLength="15.00" lengthAdjust="spacingAndGlyphs">1,80</text><text x="36.00" y="508.70" font-size="9.2" fill="#333" stroke="#333" stroke-width="0.1" text-anchor="middle" font-weight="normal" textLength="19.30" lengthAdjust="spacingAndGlyphs">08,12</text><text x="71.00" y="508.70" font-size="9.2" fill="#333" stroke="#333" stroke-width="0.1" text-anchor="middle" font-weight="normal" textLength="4.30" lengthAdjust="spacingAndGlyphs">4</text><text x="105.00" y="508.70" font-size="9.2" fill="#333" stroke="#333" stroke-width="0.1" text-anchor="middle" font-weight="normal" textLength="4.30" lengthAdjust="spacingAndGlyphs">1</text><text x="138.50" y="508.70" font-size="9.2" fill="#333" stroke="#333" stroke-width="0.1" text-anchor="middle" font-weight="normal" textLength="4.30" lengthAdjust="spacingAndGlyphs">4</text><text x="173.00" y="508.70" font-size="9.2" fill="#333" stroke="#333" stroke-width="0.1" text-anchor="middle" font-weight="normal" textLength="4.30" lengthAdjust="spacingAndGlyphs">3</text><text x="207.00" y="508.70" font-size="9.2" fill="#333" stroke="#333" stroke-width="0.1" text-anchor="middle" font-weight="normal" textLength="4.30" lengthAdjust="spacingAndGlyphs">6</text><text x="240.70" y="508.70" font-size="9.2" fill="#333" stroke="#333" stroke-width="0.1" text-anchor="middle" font-weight="normal" textLength="19.30" lengthAdjust="spacingAndGlyphs">13,50</text><text x="36.00" y="527.20" font-size="9.2" fill="#333" stroke="#333" stroke-width="0.1" text-anchor="middle" font-weight="normal" textLength="19.30" lengthAdjust="spacingAndGlyphs">08,06</text><text x="71.00" y="527.20" font-size="9.2" fill="#333" stroke="#333" stroke-width="0.1" text-anchor="middle" font-weight="normal" textLength="4.30" lengthAdjust="spacingAndGlyphs">6</text><text x="105.00" y="527.20" font-size="9.2" fill="#333" stroke="#333" stroke-width="0.1" text-anchor="middle" font-weight="normal" textLength="4.30" lengthAdjust="spacingAndGlyphs">0</text><text x="138.50" y="527.20" font-size="9.2" fill="#333" stroke="#333" stroke-width="0.1" text-anchor="middle" font-weight="normal" textLength="4.30" lengthAdjust="spacingAndGlyphs">2</text><text x="173.00" y="527.20" font-size="9.2" fill="#333" stroke="#333" stroke-width="0.1" text-anchor="middle" font-weight="normal" textLength="4.30" lengthAdjust="spacingAndGlyphs">3</text><text x="207.00" y="527.20" font-size="9.2" fill="#333" stroke="#333" stroke-width="0.1" text-anchor="middle" font-weight="normal" textLength="4.30" lengthAdjust="spacingAndGlyphs">0</text><text x="240.70" y="527.20" font-size="9.2" fill="#333" stroke="#333" stroke-width="0.1" text-anchor="middle" font-weight="normal" textLength="15.00" lengthAdjust="spacingAndGlyphs">0,00</text><text x="36.00" y="545.70" font-size="9.2" fill="#333" stroke="#333" stroke-width="0.1" text-anchor="middle" font-weight="normal" textLength="19.30" lengthAdjust="spacingAndGlyphs">07,23</text><text x="71.00" y="545.70" font-size="9.2" fill="#333" stroke="#333" stroke-width="0.1" text-anchor="middle" font-weight="normal" textLength="4.30" lengthAdjust="spacingAndGlyphs">9</text><text x="105.00" y="545.70" font-size="9.2" fill="#333" stroke="#333" stroke-width="0.1" text-anchor="middle" font-weight="normal" textLength="4.30" lengthAdjust="spacingAndGlyphs">0</text><text x="138.50" y="545.70" font-size="9.2" fill="#333" stroke="#333" stroke-width="0.1" text-anchor="middle" font-weight="normal" textLength="4.30" lengthAdjust="spacingAndGlyphs">1</text><text x="173.00" y="545.70" font-size="9.2" fill="#333" stroke="#333" stroke-width="0.1" text-anchor="middle" font-weight="normal" textLength="4.30" lengthAdjust="spacingAndGlyphs">4</text><text x="207.00" y="545.70" font-size="9.2" fill="#333" stroke="#333" stroke-width="0.1" text-anchor="middle" font-weight="normal" textLength="4.30" lengthAdjust="spacingAndGlyphs">5</text><text x="240.70" y="545.70" font-size="9.2" fill="#333" stroke="#333" stroke-width="0.1" text-anchor="middle" font-weight="normal" textLength="19.30" lengthAdjust="spacingAndGlyphs">11,25</text><text x="36.00" y="564.20" font-size="9.2" fill="#333" stroke="#333" stroke-width="0.05" text-anchor="middle" font-weight="normal" textLength="16.80" lengthAdjust="spacingAndGlyphs">평균</text><text x="71.00" y="564.50" font-size="9.2" fill="#333" stroke="#333" stroke-width="0.1" text-anchor="middle" font-weight="normal" textLength="15.00" lengthAdjust="spacingAndGlyphs">5,60</text><text x="105.00" y="564.50" font-size="9.2" fill="#333" stroke="#333" stroke-width="0.1" text-anchor="middle" font-weight="normal" textLength="15.00" lengthAdjust="spacingAndGlyphs">0,40</text><text x="138.50" y="564.50" font-size="9.2" fill="#333" stroke="#333" stroke-width="0.1" text-anchor="middle" font-weight="normal" textLength="15.00" lengthAdjust="spacingAndGlyphs">2,00</text><text x="173.00" y="564.50" font-size="9.2" fill="#333" stroke="#333" stroke-width="0.1" text-anchor="middle" font-weight="normal" textLength="15.00" lengthAdjust="spacingAndGlyphs">4,00</text><text x="207.00" y="564.50" font-size="9.2" fill="#333" stroke="#333" stroke-width="0.1" text-anchor="middle" font-weight="normal" textLength="15.00" lengthAdjust="spacingAndGlyphs">2,80</text><text x="240.70" y="564.50" font-size="9.2" fill="#333" stroke="#333" stroke-width="0.1" text-anchor="middle" font-weight="normal" textLength="15.00" lengthAdjust="spacingAndGlyphs">4,91</text><rect x="274.40" y="561.00" width="1.3" height="1.3" fill="#666"/><rect x="357" y="437.2" width="276" height="21.50" fill="#f1f1f1"/><rect x="357" y="551.20" width="276" height="20.50" fill="#f0f0f0"/><path d="M357,458.70 H633" stroke="#d0d0d0" stroke-width="1"/><path d="M357,476.70 H633" stroke="#ececec" stroke-width="1"/><path d="M357,495.50 H633" stroke="#ececec" stroke-width="1"/><path d="M357,514.40 H633" stroke="#ececec" stroke-width="1"/><path d="M357,532.40 H633" stroke="#ececec" stroke-width="1"/><path d="M357.5,437.2 V571.7" stroke="#d4d4d4" stroke-width="1"/><path d="M632.5,437.2 V572.2" stroke="#d4d4d4" stroke-width="1"/><path d="M633.5,438.2 V573.2" stroke="#eeeeee" stroke-width="1"/><path d="M357,437.7 H633" stroke="#d8d8d8" stroke-width="1"/><path d="M357,571.7 H633" stroke="#d0d0d0" stroke-width="1"/><path d="M358,572.7 H634" stroke="#eaeaea" stroke-width="1"/><text x="377.00" y="451.10" font-size="9.2" fill="#444" stroke="#444" stroke-width="0.05" text-anchor="middle" font-weight="normal" textLength="16.80" lengthAdjust="spacingAndGlyphs">일자</text><text x="412.00" y="451.10" font-size="9.2" fill="#444" stroke="#444" stroke-width="0.05" text-anchor="middle" font-weight="normal" textLength="25.20" lengthAdjust="spacingAndGlyphs">피안타</text><text x="446.00" y="451.10" font-size="9.2" fill="#444" stroke="#444" stroke-width="0.05" text-anchor="middle" font-weight="normal" textLength="25.20" lengthAdjust="spacingAndGlyphs">피홈런</text><text x="479.50" y="451.10" font-size="9.2" fill="#444" stroke="#444" stroke-width="0.05" text-anchor="middle" font-weight="normal" textLength="16.80" lengthAdjust="spacingAndGlyphs">포볼</text><text x="514.00" y="451.10" font-size="9.2" fill="#444" stroke="#444" stroke-width="0.05" text-anchor="middle" font-weight="normal" textLength="16.80" lengthAdjust="spacingAndGlyphs">삼진</text><text x="548.00" y="451.10" font-size="9.2" fill="#444" stroke="#444" stroke-width="0.05" text-anchor="middle" font-weight="normal" textLength="25.20" lengthAdjust="spacingAndGlyphs">자책점</text><text x="581.70" y="451.10" font-size="9.2" fill="#444" stroke="#444" stroke-width="0.05" text-anchor="middle" font-weight="normal" textLength="25.20" lengthAdjust="spacingAndGlyphs">방어율</text><text x="616.00" y="451.10" font-size="9.2" fill="#444" stroke="#444" stroke-width="0.05" text-anchor="middle" font-weight="normal" textLength="25.20" lengthAdjust="spacingAndGlyphs">상대팀</text><text x="377.00" y="471.20" font-size="9.2" fill="#333" stroke="#333" stroke-width="0.1" text-anchor="middle" font-weight="normal" textLength="19.30" lengthAdjust="spacingAndGlyphs">04,03</text><text x="412.00" y="471.20" font-size="9.2" fill="#333" stroke="#333" stroke-width="0.1" text-anchor="middle" font-weight="normal" textLength="4.30" lengthAdjust="spacingAndGlyphs">5</text><text x="446.00" y="471.20" font-size="9.2" fill="#333" stroke="#333" stroke-width="0.1" text-anchor="middle" font-weight="normal" textLength="4.30" lengthAdjust="spacingAndGlyphs">1</text><text x="479.50" y="471.20" font-size="9.2" fill="#333" stroke="#333" stroke-width="0.1" text-anchor="middle" font-weight="normal" textLength="4.30" lengthAdjust="spacingAndGlyphs">1</text><text x="514.00" y="471.20" font-size="9.2" fill="#333" stroke="#333" stroke-width="0.1" text-anchor="middle" font-weight="normal" textLength="4.30" lengthAdjust="spacingAndGlyphs">7</text><text x="548.00" y="471.20" font-size="9.2" fill="#333" stroke="#333" stroke-width="0.1" text-anchor="middle" font-weight="normal" textLength="4.30" lengthAdjust="spacingAndGlyphs">3</text><text x="581.70" y="471.20" font-size="9.2" fill="#333" stroke="#333" stroke-width="0.1" text-anchor="middle" font-weight="normal" textLength="15.00" lengthAdjust="spacingAndGlyphs">5,06</text><text x="377.00" y="490.00" font-size="9.2" fill="#333" stroke="#333" stroke-width="0.1" text-anchor="middle" font-weight="normal" textLength="19.30" lengthAdjust="spacingAndGlyphs">09,23</text><text x="412.00" y="490.00" font-size="9.2" fill="#333" stroke="#333" stroke-width="0.1" text-anchor="middle" font-weight="normal" textLength="4.30" lengthAdjust="spacingAndGlyphs">7</text><text x="446.00" y="490.00" font-size="9.2" fill="#333" stroke="#333" stroke-width="0.1" text-anchor="middle" font-weight="normal" textLength="4.30" lengthAdjust="spacingAndGlyphs">0</text><text x="479.50" y="490.00" font-size="9.2" fill="#333" stroke="#333" stroke-width="0.1" text-anchor="middle" font-weight="normal" textLength="4.30" lengthAdjust="spacingAndGlyphs">1</text><text x="514.00" y="490.00" font-size="9.2" fill="#333" stroke="#333" stroke-width="0.1" text-anchor="middle" font-weight="normal" textLength="4.30" lengthAdjust="spacingAndGlyphs">2</text><text x="548.00" y="490.00" font-size="9.2" fill="#333" stroke="#333" stroke-width="0.1" text-anchor="middle" font-weight="normal" textLength="4.30" lengthAdjust="spacingAndGlyphs">1</text><text x="581.70" y="490.00" font-size="9.2" fill="#333" stroke="#333" stroke-width="0.1" text-anchor="middle" font-weight="normal" textLength="15.00" lengthAdjust="spacingAndGlyphs">4,50</text><text x="377.00" y="508.70" font-size="9.2" fill="#333" stroke="#333" stroke-width="0.1" text-anchor="middle" font-weight="normal" textLength="19.30" lengthAdjust="spacingAndGlyphs">09,17</text><text x="412.00" y="508.70" font-size="9.2" fill="#333" stroke="#333" stroke-width="0.1" text-anchor="middle" font-weight="normal" textLength="4.30" lengthAdjust="spacingAndGlyphs">3</text><text x="446.00" y="508.70" font-size="9.2" fill="#333" stroke="#333" stroke-width="0.1" text-anchor="middle" font-weight="normal" textLength="4.30" lengthAdjust="spacingAndGlyphs">0</text><text x="479.50" y="508.70" font-size="9.2" fill="#333" stroke="#333" stroke-width="0.1" text-anchor="middle" font-weight="normal" textLength="4.30" lengthAdjust="spacingAndGlyphs">4</text><text x="514.00" y="508.70" font-size="9.2" fill="#333" stroke="#333" stroke-width="0.1" text-anchor="middle" font-weight="normal" textLength="4.30" lengthAdjust="spacingAndGlyphs">7</text><text x="548.00" y="508.70" font-size="9.2" fill="#333" stroke="#333" stroke-width="0.1" text-anchor="middle" font-weight="normal" textLength="4.30" lengthAdjust="spacingAndGlyphs">0</text><text x="581.70" y="508.70" font-size="9.2" fill="#333" stroke="#333" stroke-width="0.1" text-anchor="middle" font-weight="normal" textLength="15.00" lengthAdjust="spacingAndGlyphs">0,00</text><text x="377.00" y="527.20" font-size="9.2" fill="#333" stroke="#333" stroke-width="0.1" text-anchor="middle" font-weight="normal" textLength="19.30" lengthAdjust="spacingAndGlyphs">09,10</text><text x="412.00" y="527.20" font-size="9.2" fill="#333" stroke="#333" stroke-width="0.1" text-anchor="middle" font-weight="normal" textLength="4.30" lengthAdjust="spacingAndGlyphs">5</text><text x="446.00" y="527.20" font-size="9.2" fill="#333" stroke="#333" stroke-width="0.1" text-anchor="middle" font-weight="normal" textLength="4.30" lengthAdjust="spacingAndGlyphs">1</text><text x="479.50" y="527.20" font-size="9.2" fill="#333" stroke="#333" stroke-width="0.1" text-anchor="middle" font-weight="normal" textLength="4.30" lengthAdjust="spacingAndGlyphs">3</text><text x="514.00" y="527.20" font-size="9.2" fill="#333" stroke="#333" stroke-width="0.1" text-anchor="middle" font-weight="normal" textLength="4.30" lengthAdjust="spacingAndGlyphs">6</text><text x="548.00" y="527.20" font-size="9.2" fill="#333" stroke="#333" stroke-width="0.1" text-anchor="middle" font-weight="normal" textLength="4.30" lengthAdjust="spacingAndGlyphs">2</text><text x="581.70" y="527.20" font-size="9.2" fill="#333" stroke="#333" stroke-width="0.1" text-anchor="middle" font-weight="normal" textLength="15.00" lengthAdjust="spacingAndGlyphs">2,46</text><text x="377.00" y="545.70" font-size="9.2" fill="#333" stroke="#333" stroke-width="0.1" text-anchor="middle" font-weight="normal" textLength="19.30" lengthAdjust="spacingAndGlyphs">09,03</text><text x="412.00" y="545.70" font-size="9.2" fill="#333" stroke="#333" stroke-width="0.1" text-anchor="middle" font-weight="normal" textLength="4.30" lengthAdjust="spacingAndGlyphs">5</text><text x="446.00" y="545.70" font-size="9.2" fill="#333" stroke="#333" stroke-width="0.1" text-anchor="middle" font-weight="normal" textLength="4.30" lengthAdjust="spacingAndGlyphs">1</text><text x="479.50" y="545.70" font-size="9.2" fill="#333" stroke="#333" stroke-width="0.1" text-anchor="middle" font-weight="normal" textLength="4.30" lengthAdjust="spacingAndGlyphs">1</text><text x="514.00" y="545.70" font-size="9.2" fill="#333" stroke="#333" stroke-width="0.1" text-anchor="middle" font-weight="normal" textLength="4.30" lengthAdjust="spacingAndGlyphs">1</text><text x="548.00" y="545.70" font-size="9.2" fill="#333" stroke="#333" stroke-width="0.1" text-anchor="middle" font-weight="normal" textLength="4.30" lengthAdjust="spacingAndGlyphs">4</text><text x="581.70" y="545.70" font-size="9.2" fill="#333" stroke="#333" stroke-width="0.1" text-anchor="middle" font-weight="normal" textLength="19.30" lengthAdjust="spacingAndGlyphs">18,00</text><text x="377.00" y="564.20" font-size="9.2" fill="#333" stroke="#333" stroke-width="0.05" text-anchor="middle" font-weight="normal" textLength="16.80" lengthAdjust="spacingAndGlyphs">평균</text><text x="412.00" y="564.50" font-size="9.2" fill="#333" stroke="#333" stroke-width="0.1" text-anchor="middle" font-weight="normal" textLength="15.00" lengthAdjust="spacingAndGlyphs">5,00</text><text x="446.00" y="564.50" font-size="9.2" fill="#333" stroke="#333" stroke-width="0.1" text-anchor="middle" font-weight="normal" textLength="15.00" lengthAdjust="spacingAndGlyphs">0,60</text><text x="479.50" y="564.50" font-size="9.2" fill="#333" stroke="#333" stroke-width="0.1" text-anchor="middle" font-weight="normal" textLength="15.00" lengthAdjust="spacingAndGlyphs">2,00</text><text x="514.00" y="564.50" font-size="9.2" fill="#333" stroke="#333" stroke-width="0.1" text-anchor="middle" font-weight="normal" textLength="15.00" lengthAdjust="spacingAndGlyphs">4,60</text><text x="548.00" y="564.50" font-size="9.2" fill="#333" stroke="#333" stroke-width="0.1" text-anchor="middle" font-weight="normal" textLength="15.00" lengthAdjust="spacingAndGlyphs">2,00</text><text x="581.70" y="564.50" font-size="9.2" fill="#333" stroke="#333" stroke-width="0.1" text-anchor="middle" font-weight="normal" textLength="15.00" lengthAdjust="spacingAndGlyphs">3,97</text><rect x="615.40" y="561.00" width="1.3" height="1.3" fill="#666"/><g transform="translate(152,598.6999999999999)"><path d="M1,0.5 L2.6,1 L2,2.6 Z" fill="#c8e4f0"/><path d="M3,1 L8.2,1.3 L8.6,4.2 L5.2,5.7 L2.6,5 Z" fill="#e2262f"/><circle cx="10" cy="2" r="1" fill="#1f4f55"/><path d="M1.5,7.2 L8.2,4.2 L8.8,5.6 L2.2,8.4 Z" fill="#e6b58a"/><circle cx="10" cy="7.8" r="3.2" fill="#3c3c3c"/><circle cx="10.3" cy="6.9" r="1" fill="#e8e8e8"/><path d="M0.8,7.8 L7,9.8 L6.7,13.5 L1.9,13.1 L0.6,10.5 Z" fill="#dc1e2a"/><path d="M7,10.9 L13,9 L11.5,12.4 L7.4,13.1 Z" fill="#e02a34"/></g><text x="169.72" y="607.20" font-size="9.6" fill="#444" font-weight="bold" textLength="57.76" lengthAdjust="spacingAndGlyphs" >아두와마코토</text><g transform="translate(484.5,598.3)"><path d="M3.5,0 L8.5,1.2 L8.7,3.4 L4.5,3.2 Z" fill="#1e2d7a"/><path d="M2,4 L6,2.6 L9,4 L8,8.6 L3.5,8.2 L1.5,6.5 Z" fill="#f0c010"/><circle cx="1.8" cy="7.2" r="0.8" fill="#d84020"/><circle cx="8.7" cy="7.8" r="3.4" fill="#585858"/><circle cx="9.4" cy="7" r="1.1" fill="#e0e0e0"/><path d="M0.3,8.6 L5,8.6 L7,12.8 L4,13 L0.6,12 Z" fill="#2a52c0"/></g><text x="401.62" y="607.20" font-size="9.6" fill="#444" font-weight="bold" textLength="77.66" lengthAdjust="spacingAndGlyphs" >하마구치하루히로</text><rect x="16" y="614.3" width="276" height="21.50" fill="#f1f1f1"/><rect x="16" y="728.30" width="276" height="20.50" fill="#f0f0f0"/><path d="M16,635.80 H292" stroke="#d0d0d0" stroke-width="1"/><path d="M16,653.80 H292" stroke="#ececec" stroke-width="1"/><path d="M16,672.60 H292" stroke="#ececec" stroke-width="1"/><path d="M16,691.50 H292" stroke="#ececec" stroke-width="1"/><path d="M16,709.50 H292" stroke="#ececec" stroke-width="1"/><path d="M16.5,614.3 V748.8" stroke="#d4d4d4" stroke-width="1"/><path d="M291.5,614.3 V749.3" stroke="#d4d4d4" stroke-width="1"/><path d="M292.5,615.3 V750.3" stroke="#eeeeee" stroke-width="1"/><path d="M16,614.8 H292" stroke="#d8d8d8" stroke-width="1"/><path d="M16,748.8 H292" stroke="#d0d0d0" stroke-width="1"/><path d="M17,749.8 H293" stroke="#eaeaea" stroke-width="1"/><text x="36.00" y="628.20" font-size="9.2" fill="#444" stroke="#444" stroke-width="0.05" text-anchor="middle" font-weight="normal" textLength="16.80" lengthAdjust="spacingAndGlyphs">일자</text><text x="71.00" y="628.20" font-size="9.2" fill="#444" stroke="#444" stroke-width="0.05" text-anchor="middle" font-weight="normal" textLength="25.20" lengthAdjust="spacingAndGlyphs">피안타</text><text x="105.00" y="628.20" font-size="9.2" fill="#444" stroke="#444" stroke-width="0.05" text-anchor="middle" font-weight="normal" textLength="25.20" lengthAdjust="spacingAndGlyphs">피홈런</text><text x="138.50" y="628.20" font-size="9.2" fill="#444" stroke="#444" stroke-width="0.05" text-anchor="middle" font-weight="normal" textLength="16.80" lengthAdjust="spacingAndGlyphs">포볼</text><text x="173.00" y="628.20" font-size="9.2" fill="#444" stroke="#444" stroke-width="0.05" text-anchor="middle" font-weight="normal" textLength="16.80" lengthAdjust="spacingAndGlyphs">삼진</text><text x="207.00" y="628.20" font-size="9.2" fill="#444" stroke="#444" stroke-width="0.05" text-anchor="middle" font-weight="normal" textLength="25.20" lengthAdjust="spacingAndGlyphs">자책점</text><text x="240.70" y="628.20" font-size="9.2" fill="#444" stroke="#444" stroke-width="0.05" text-anchor="middle" font-weight="normal" textLength="25.20" lengthAdjust="spacingAndGlyphs">방어율</text><text x="275.00" y="628.20" font-size="9.2" fill="#444" stroke="#444" stroke-width="0.05" text-anchor="middle" font-weight="normal" textLength="25.20" lengthAdjust="spacingAndGlyphs">상대팀</text><text x="36.00" y="648.30" font-size="9.2" fill="#333" stroke="#333" stroke-width="0.1" text-anchor="middle" font-weight="normal" textLength="19.30" lengthAdjust="spacingAndGlyphs">03,31</text><text x="71.00" y="648.30" font-size="9.2" fill="#333" stroke="#333" stroke-width="0.1" text-anchor="middle" font-weight="normal" textLength="4.30" lengthAdjust="spacingAndGlyphs">3</text><text x="105.00" y="648.30" font-size="9.2" fill="#333" stroke="#333" stroke-width="0.1" text-anchor="middle" font-weight="normal" textLength="4.30" lengthAdjust="spacingAndGlyphs">0</text><text x="138.50" y="648.30" font-size="9.2" fill="#333" stroke="#333" stroke-width="0.1" text-anchor="middle" font-weight="normal" textLength="4.30" lengthAdjust="spacingAndGlyphs">2</text><text x="173.00" y="648.30" font-size="9.2" fill="#333" stroke="#333" stroke-width="0.1" text-anchor="middle" font-weight="normal" textLength="4.30" lengthAdjust="spacingAndGlyphs">1</text><text x="207.00" y="648.30" font-size="9.2" fill="#333" stroke="#333" stroke-width="0.1" text-anchor="middle" font-weight="normal" textLength="4.30" lengthAdjust="spacingAndGlyphs">1</text><text x="240.70" y="648.30" font-size="9.2" fill="#333" stroke="#333" stroke-width="0.1" text-anchor="middle" font-weight="normal" textLength="15.00" lengthAdjust="spacingAndGlyphs">1,80</text><text x="36.00" y="667.10" font-size="9.2" fill="#333" stroke="#333" stroke-width="0.1" text-anchor="middle" font-weight="normal" textLength="19.30" lengthAdjust="spacingAndGlyphs">08,06</text><text x="71.00" y="667.10" font-size="9.2" fill="#333" stroke="#333" stroke-width="0.1" text-anchor="middle" font-weight="normal" textLength="4.30" lengthAdjust="spacingAndGlyphs">6</text><text x="105.00" y="667.10" font-size="9.2" fill="#333" stroke="#333" stroke-width="0.1" text-anchor="middle" font-weight="normal" textLength="4.30" lengthAdjust="spacingAndGlyphs">0</text><text x="138.50" y="667.10" font-size="9.2" fill="#333" stroke="#333" stroke-width="0.1" text-anchor="middle" font-weight="normal" textLength="4.30" lengthAdjust="spacingAndGlyphs">2</text><text x="173.00" y="667.10" font-size="9.2" fill="#333" stroke="#333" stroke-width="0.1" text-anchor="middle" font-weight="normal" textLength="4.30" lengthAdjust="spacingAndGlyphs">3</text><text x="207.00" y="667.10" font-size="9.2" fill="#333" stroke="#333" stroke-width="0.1" text-anchor="middle" font-weight="normal" textLength="4.30" lengthAdjust="spacingAndGlyphs">0</text><text x="240.70" y="667.10" font-size="9.2" fill="#333" stroke="#333" stroke-width="0.1" text-anchor="middle" font-weight="normal" textLength="15.00" lengthAdjust="spacingAndGlyphs">0,00</text><text x="36.00" y="685.80" font-size="9.2" fill="#333" stroke="#333" stroke-width="0.1" text-anchor="middle" font-weight="normal" textLength="19.30" lengthAdjust="spacingAndGlyphs">07,16</text><text x="71.00" y="685.80" font-size="9.2" fill="#333" stroke="#333" stroke-width="0.1" text-anchor="middle" font-weight="normal" textLength="4.30" lengthAdjust="spacingAndGlyphs">6</text><text x="105.00" y="685.80" font-size="9.2" fill="#333" stroke="#333" stroke-width="0.1" text-anchor="middle" font-weight="normal" textLength="4.30" lengthAdjust="spacingAndGlyphs">2</text><text x="138.50" y="685.80" font-size="9.2" fill="#333" stroke="#333" stroke-width="0.1" text-anchor="middle" font-weight="normal" textLength="4.30" lengthAdjust="spacingAndGlyphs">2</text><text x="173.00" y="685.80" font-size="9.2" fill="#333" stroke="#333" stroke-width="0.1" text-anchor="middle" font-weight="normal" textLength="4.30" lengthAdjust="spacingAndGlyphs">6</text><text x="207.00" y="685.80" font-size="9.2" fill="#333" stroke="#333" stroke-width="0.1" text-anchor="middle" font-weight="normal" textLength="4.30" lengthAdjust="spacingAndGlyphs">4</text><text x="240.70" y="685.80" font-size="9.2" fill="#333" stroke="#333" stroke-width="0.1" text-anchor="middle" font-weight="normal" textLength="15.00" lengthAdjust="spacingAndGlyphs">6,00</text><text x="36.00" y="704.30" font-size="9.2" fill="#333" stroke="#333" stroke-width="0.1" text-anchor="middle" font-weight="normal" textLength="19.30" lengthAdjust="spacingAndGlyphs">06,29</text><text x="71.00" y="704.30" font-size="9.2" fill="#333" stroke="#333" stroke-width="0.1" text-anchor="middle" font-weight="normal" textLength="4.30" lengthAdjust="spacingAndGlyphs">5</text><text x="105.00" y="704.30" font-size="9.2" fill="#333" stroke="#333" stroke-width="0.1" text-anchor="middle" font-weight="normal" textLength="4.30" lengthAdjust="spacingAndGlyphs">1</text><text x="138.50" y="704.30" font-size="9.2" fill="#333" stroke="#333" stroke-width="0.1" text-anchor="middle" font-weight="normal" textLength="4.30" lengthAdjust="spacingAndGlyphs">1</text><text x="173.00" y="704.30" font-size="9.2" fill="#333" stroke="#333" stroke-width="0.1" text-anchor="middle" font-weight="normal" textLength="4.30" lengthAdjust="spacingAndGlyphs">5</text><text x="207.00" y="704.30" font-size="9.2" fill="#333" stroke="#333" stroke-width="0.1" text-anchor="middle" font-weight="normal" textLength="4.30" lengthAdjust="spacingAndGlyphs">1</text><text x="240.70" y="704.30" font-size="9.2" fill="#333" stroke="#333" stroke-width="0.1" text-anchor="middle" font-weight="normal" textLength="15.00" lengthAdjust="spacingAndGlyphs">1,29</text><text x="36.00" y="722.80" font-size="9.2" fill="#333" stroke="#333" stroke-width="0.1" text-anchor="middle" font-weight="normal" textLength="19.30" lengthAdjust="spacingAndGlyphs">05,12</text><text x="71.00" y="722.80" font-size="9.2" fill="#333" stroke="#333" stroke-width="0.1" text-anchor="middle" font-weight="normal" textLength="4.30" lengthAdjust="spacingAndGlyphs">8</text><text x="105.00" y="722.80" font-size="9.2" fill="#333" stroke="#333" stroke-width="0.1" text-anchor="middle" font-weight="normal" textLength="4.30" lengthAdjust="spacingAndGlyphs">1</text><text x="138.50" y="722.80" font-size="9.2" fill="#333" stroke="#333" stroke-width="0.1" text-anchor="middle" font-weight="normal" textLength="4.30" lengthAdjust="spacingAndGlyphs">0</text><text x="173.00" y="722.80" font-size="9.2" fill="#333" stroke="#333" stroke-width="0.1" text-anchor="middle" font-weight="normal" textLength="4.30" lengthAdjust="spacingAndGlyphs">3</text><text x="207.00" y="722.80" font-size="9.2" fill="#333" stroke="#333" stroke-width="0.1" text-anchor="middle" font-weight="normal" textLength="4.30" lengthAdjust="spacingAndGlyphs">1</text><text x="240.70" y="722.80" font-size="9.2" fill="#333" stroke="#333" stroke-width="0.1" text-anchor="middle" font-weight="normal" textLength="15.00" lengthAdjust="spacingAndGlyphs">1,00</text><text x="36.00" y="741.30" font-size="9.2" fill="#333" stroke="#333" stroke-width="0.05" text-anchor="middle" font-weight="normal" textLength="16.80" lengthAdjust="spacingAndGlyphs">평균</text><text x="71.00" y="741.60" font-size="9.2" fill="#333" stroke="#333" stroke-width="0.1" text-anchor="middle" font-weight="normal" textLength="15.00" lengthAdjust="spacingAndGlyphs">5,60</text><text x="105.00" y="741.60" font-size="9.2" fill="#333" stroke="#333" stroke-width="0.1" text-anchor="middle" font-weight="normal" textLength="15.00" lengthAdjust="spacingAndGlyphs">0,80</text><text x="138.50" y="741.60" font-size="9.2" fill="#333" stroke="#333" stroke-width="0.1" text-anchor="middle" font-weight="normal" textLength="15.00" lengthAdjust="spacingAndGlyphs">1,40</text><text x="173.00" y="741.60" font-size="9.2" fill="#333" stroke="#333" stroke-width="0.1" text-anchor="middle" font-weight="normal" textLength="15.00" lengthAdjust="spacingAndGlyphs">3,60</text><text x="207.00" y="741.60" font-size="9.2" fill="#333" stroke="#333" stroke-width="0.1" text-anchor="middle" font-weight="normal" textLength="15.00" lengthAdjust="spacingAndGlyphs">1,40</text><text x="240.70" y="741.60" font-size="9.2" fill="#333" stroke="#333" stroke-width="0.1" text-anchor="middle" font-weight="normal" textLength="15.00" lengthAdjust="spacingAndGlyphs">1,85</text><rect x="274.40" y="738.10" width="1.3" height="1.3" fill="#666"/><rect x="357" y="614.3" width="276" height="21.50" fill="#f1f1f1"/><rect x="357" y="728.30" width="276" height="20.50" fill="#f0f0f0"/><path d="M357,635.80 H633" stroke="#d0d0d0" stroke-width="1"/><path d="M357,653.80 H633" stroke="#ececec" stroke-width="1"/><path d="M357,672.60 H633" stroke="#ececec" stroke-width="1"/><path d="M357,691.50 H633" stroke="#ececec" stroke-width="1"/><path d="M357,709.50 H633" stroke="#ececec" stroke-width="1"/><path d="M357.5,614.3 V748.8" stroke="#d4d4d4" stroke-width="1"/><path d="M632.5,614.3 V749.3" stroke="#d4d4d4" stroke-width="1"/><path d="M633.5,615.3 V750.3" stroke="#eeeeee" stroke-width="1"/><path d="M357,614.8 H633" stroke="#d8d8d8" stroke-width="1"/><path d="M357,748.8 H633" stroke="#d0d0d0" stroke-width="1"/><path d="M358,749.8 H634" stroke="#eaeaea" stroke-width="1"/><text x="377.00" y="628.20" font-size="9.2" fill="#444" stroke="#444" stroke-width="0.05" text-anchor="middle" font-weight="normal" textLength="16.80" lengthAdjust="spacingAndGlyphs">일자</text><text x="412.00" y="628.20" font-size="9.2" fill="#444" stroke="#444" stroke-width="0.05" text-anchor="middle" font-weight="normal" textLength="25.20" lengthAdjust="spacingAndGlyphs">피안타</text><text x="446.00" y="628.20" font-size="9.2" fill="#444" stroke="#444" stroke-width="0.05" text-anchor="middle" font-weight="normal" textLength="25.20" lengthAdjust="spacingAndGlyphs">피홈런</text><text x="479.50" y="628.20" font-size="9.2" fill="#444" stroke="#444" stroke-width="0.05" text-anchor="middle" font-weight="normal" textLength="16.80" lengthAdjust="spacingAndGlyphs">포볼</text><text x="514.00" y="628.20" font-size="9.2" fill="#444" stroke="#444" stroke-width="0.05" text-anchor="middle" font-weight="normal" textLength="16.80" lengthAdjust="spacingAndGlyphs">삼진</text><text x="548.00" y="628.20" font-size="9.2" fill="#444" stroke="#444" stroke-width="0.05" text-anchor="middle" font-weight="normal" textLength="25.20" lengthAdjust="spacingAndGlyphs">자책점</text><text x="581.70" y="628.20" font-size="9.2" fill="#444" stroke="#444" stroke-width="0.05" text-anchor="middle" font-weight="normal" textLength="25.20" lengthAdjust="spacingAndGlyphs">방어율</text><text x="616.00" y="628.20" font-size="9.2" fill="#444" stroke="#444" stroke-width="0.05" text-anchor="middle" font-weight="normal" textLength="25.20" lengthAdjust="spacingAndGlyphs">상대팀</text><text x="377.00" y="648.30" font-size="9.2" fill="#333" stroke="#333" stroke-width="0.1" text-anchor="middle" font-weight="normal" textLength="19.30" lengthAdjust="spacingAndGlyphs">08,23</text><text x="412.00" y="648.30" font-size="9.2" fill="#333" stroke="#333" stroke-width="0.1" text-anchor="middle" font-weight="normal" textLength="4.30" lengthAdjust="spacingAndGlyphs">7</text><text x="446.00" y="648.30" font-size="9.2" fill="#333" stroke="#333" stroke-width="0.1" text-anchor="middle" font-weight="normal" textLength="4.30" lengthAdjust="spacingAndGlyphs">0</text><text x="479.50" y="648.30" font-size="9.2" fill="#333" stroke="#333" stroke-width="0.1" text-anchor="middle" font-weight="normal" textLength="4.30" lengthAdjust="spacingAndGlyphs">2</text><text x="514.00" y="648.30" font-size="9.2" fill="#333" stroke="#333" stroke-width="0.1" text-anchor="middle" font-weight="normal" textLength="4.30" lengthAdjust="spacingAndGlyphs">5</text><text x="548.00" y="648.30" font-size="9.2" fill="#333" stroke="#333" stroke-width="0.1" text-anchor="middle" font-weight="normal" textLength="4.30" lengthAdjust="spacingAndGlyphs">1</text><text x="581.70" y="648.30" font-size="9.2" fill="#333" stroke="#333" stroke-width="0.1" text-anchor="middle" font-weight="normal" textLength="15.00" lengthAdjust="spacingAndGlyphs">1,59</text><text x="377.00" y="667.10" font-size="9.2" fill="#333" stroke="#333" stroke-width="0.1" text-anchor="middle" font-weight="normal" textLength="19.30" lengthAdjust="spacingAndGlyphs">08,02</text><text x="412.00" y="667.10" font-size="9.2" fill="#333" stroke="#333" stroke-width="0.1" text-anchor="middle" font-weight="normal" textLength="4.30" lengthAdjust="spacingAndGlyphs">3</text><text x="446.00" y="667.10" font-size="9.2" fill="#333" stroke="#333" stroke-width="0.1" text-anchor="middle" font-weight="normal" textLength="4.30" lengthAdjust="spacingAndGlyphs">0</text><text x="479.50" y="667.10" font-size="9.2" fill="#333" stroke="#333" stroke-width="0.1" text-anchor="middle" font-weight="normal" textLength="4.30" lengthAdjust="spacingAndGlyphs">3</text><text x="514.00" y="667.10" font-size="9.2" fill="#333" stroke="#333" stroke-width="0.1" text-anchor="middle" font-weight="normal" textLength="4.30" lengthAdjust="spacingAndGlyphs">5</text><text x="548.00" y="667.10" font-size="9.2" fill="#333" stroke="#333" stroke-width="0.1" text-anchor="middle" font-weight="normal" textLength="4.30" lengthAdjust="spacingAndGlyphs">2</text><text x="581.70" y="667.10" font-size="9.2" fill="#333" stroke="#333" stroke-width="0.1" text-anchor="middle" font-weight="normal" textLength="15.00" lengthAdjust="spacingAndGlyphs">3,00</text><text x="377.00" y="685.80" font-size="9.2" fill="#333" stroke="#333" stroke-width="0.1" text-anchor="middle" font-weight="normal" textLength="19.30" lengthAdjust="spacingAndGlyphs">09,16</text><text x="412.00" y="685.80" font-size="9.2" fill="#333" stroke="#333" stroke-width="0.1" text-anchor="middle" font-weight="normal" textLength="4.30" lengthAdjust="spacingAndGlyphs">6</text><text x="446.00" y="685.80" font-size="9.2" fill="#333" stroke="#333" stroke-width="0.1" text-anchor="middle" font-weight="normal" textLength="4.30" lengthAdjust="spacingAndGlyphs">0</text><text x="479.50" y="685.80" font-size="9.2" fill="#333" stroke="#333" stroke-width="0.1" text-anchor="middle" font-weight="normal" textLength="4.30" lengthAdjust="spacingAndGlyphs">1</text><text x="514.00" y="685.80" font-size="9.2" fill="#333" stroke="#333" stroke-width="0.1" text-anchor="middle" font-weight="normal" textLength="4.30" lengthAdjust="spacingAndGlyphs">1</text><text x="548.00" y="685.80" font-size="9.2" fill="#333" stroke="#333" stroke-width="0.1" text-anchor="middle" font-weight="normal" textLength="4.30" lengthAdjust="spacingAndGlyphs">4</text><text x="581.70" y="685.80" font-size="9.2" fill="#333" stroke="#333" stroke-width="0.1" text-anchor="middle" font-weight="normal" textLength="15.00" lengthAdjust="spacingAndGlyphs">6,00</text><text x="377.00" y="704.30" font-size="9.2" fill="#333" stroke="#333" stroke-width="0.1" text-anchor="middle" font-weight="normal" textLength="19.30" lengthAdjust="spacingAndGlyphs">08,03</text><text x="412.00" y="704.30" font-size="9.2" fill="#333" stroke="#333" stroke-width="0.1" text-anchor="middle" font-weight="normal" textLength="4.30" lengthAdjust="spacingAndGlyphs">5</text><text x="446.00" y="704.30" font-size="9.2" fill="#333" stroke="#333" stroke-width="0.1" text-anchor="middle" font-weight="normal" textLength="4.30" lengthAdjust="spacingAndGlyphs">1</text><text x="479.50" y="704.30" font-size="9.2" fill="#333" stroke="#333" stroke-width="0.1" text-anchor="middle" font-weight="normal" textLength="4.30" lengthAdjust="spacingAndGlyphs">1</text><text x="514.00" y="704.30" font-size="9.2" fill="#333" stroke="#333" stroke-width="0.1" text-anchor="middle" font-weight="normal" textLength="4.30" lengthAdjust="spacingAndGlyphs">2</text><text x="548.00" y="704.30" font-size="9.2" fill="#333" stroke="#333" stroke-width="0.1" text-anchor="middle" font-weight="normal" textLength="4.30" lengthAdjust="spacingAndGlyphs">2</text><text x="581.70" y="704.30" font-size="9.2" fill="#333" stroke="#333" stroke-width="0.1" text-anchor="middle" font-weight="normal" textLength="15.00" lengthAdjust="spacingAndGlyphs">3,00</text><text x="377.00" y="722.80" font-size="9.2" fill="#333" stroke="#333" stroke-width="0.1" text-anchor="middle" font-weight="normal" textLength="19.30" lengthAdjust="spacingAndGlyphs">06,25</text><text x="412.00" y="722.80" font-size="9.2" fill="#333" stroke="#333" stroke-width="0.1" text-anchor="middle" font-weight="normal" textLength="4.30" lengthAdjust="spacingAndGlyphs">6</text><text x="446.00" y="722.80" font-size="9.2" fill="#333" stroke="#333" stroke-width="0.1" text-anchor="middle" font-weight="normal" textLength="4.30" lengthAdjust="spacingAndGlyphs">0</text><text x="479.50" y="722.80" font-size="9.2" fill="#333" stroke="#333" stroke-width="0.1" text-anchor="middle" font-weight="normal" textLength="4.30" lengthAdjust="spacingAndGlyphs">3</text><text x="514.00" y="722.80" font-size="9.2" fill="#333" stroke="#333" stroke-width="0.1" text-anchor="middle" font-weight="normal" textLength="4.30" lengthAdjust="spacingAndGlyphs">3</text><text x="548.00" y="722.80" font-size="9.2" fill="#333" stroke="#333" stroke-width="0.1" text-anchor="middle" font-weight="normal" textLength="4.30" lengthAdjust="spacingAndGlyphs">5</text><text x="581.70" y="722.80" font-size="9.2" fill="#333" stroke="#333" stroke-width="0.1" text-anchor="middle" font-weight="normal" textLength="19.30" lengthAdjust="spacingAndGlyphs">11,25</text><text x="377.00" y="741.30" font-size="9.2" fill="#333" stroke="#333" stroke-width="0.05" text-anchor="middle" font-weight="normal" textLength="16.80" lengthAdjust="spacingAndGlyphs">평균</text><text x="412.00" y="741.60" font-size="9.2" fill="#333" stroke="#333" stroke-width="0.1" text-anchor="middle" font-weight="normal" textLength="15.00" lengthAdjust="spacingAndGlyphs">5,40</text><text x="446.00" y="741.60" font-size="9.2" fill="#333" stroke="#333" stroke-width="0.1" text-anchor="middle" font-weight="normal" textLength="15.00" lengthAdjust="spacingAndGlyphs">0,20</text><text x="479.50" y="741.60" font-size="9.2" fill="#333" stroke="#333" stroke-width="0.1" text-anchor="middle" font-weight="normal" textLength="15.00" lengthAdjust="spacingAndGlyphs">2,00</text><text x="514.00" y="741.60" font-size="9.2" fill="#333" stroke="#333" stroke-width="0.1" text-anchor="middle" font-weight="normal" textLength="15.00" lengthAdjust="spacingAndGlyphs">3,20</text><text x="548.00" y="741.60" font-size="9.2" fill="#333" stroke="#333" stroke-width="0.1" text-anchor="middle" font-weight="normal" textLength="15.00" lengthAdjust="spacingAndGlyphs">2,80</text><text x="581.70" y="741.60" font-size="9.2" fill="#333" stroke="#333" stroke-width="0.1" text-anchor="middle" font-weight="normal" textLength="15.00" lengthAdjust="spacingAndGlyphs">4,55</text><rect x="615.40" y="738.10" width="1.3" height="1.3" fill="#666"/><text x="313.38" y="91.65" font-size="16.4" fill="#3a3a3a" font-weight="normal" textLength="20.64" lengthAdjust="spacingAndGlyphs" stroke="#3a3a3a" stroke-width="0.35">VS</text><text x="313.38" y="296.30" font-size="16.4" fill="#3a3a3a" font-weight="normal" textLength="20.64" lengthAdjust="spacingAndGlyphs" stroke="#3a3a3a" stroke-width="0.35">VS</text><text x="313.38" y="502.20" font-size="16.4" fill="#3a3a3a" font-weight="normal" textLength="20.64" lengthAdjust="spacingAndGlyphs" stroke="#3a3a3a" stroke-width="0.35">VS</text><text x="313.38" y="678.90" font-size="16.4" fill="#3a3a3a" font-weight="normal" textLength="20.64" lengthAdjust="spacingAndGlyphs" stroke="#3a3a3a" stroke-width="0.35">VS</text><path d="M16,8 L128.3,8 L147.8,27.8 L16,27.8 Z" fill="url(#hg)"/><rect x="16.6" y="8.9" width="5.4" height="18.400000000000002" fill="#f7a300"/><text x="31.35" y="21.30" font-size="9.1" fill="#fff" font-weight="bold" textLength="56.01" lengthAdjust="spacingAndGlyphs" word-spacing="2.6">홈 경기 성적</text><path d="M632.5,8 L520.8,8 L502,27.8 L632.5,27.8 Z" fill="url(#hg)"/><rect x="627.8" y="8.9" width="4.4" height="18.400000000000002" fill="#5b9bf6"/><text x="542.25" y="21.30" font-size="9.1" fill="#fff" font-weight="bold" textLength="74.81" lengthAdjust="spacingAndGlyphs" word-spacing="2.6">어웨이 경기 성적</text><path d="M16,185 L128.3,185 L147.8,204.8 L16,204.8 Z" fill="url(#hg)"/><rect x="16.6" y="185.9" width="5.4" height="18.400000000000002" fill="#f7a300"/><text x="31.35" y="198.30" font-size="9.1" fill="#fff" font-weight="bold" textLength="94.91" lengthAdjust="spacingAndGlyphs" word-spacing="2.6">선발투수 퀄리티 분석</text><path d="M632.5,185 L520.8,185 L502,204.8 L632.5,204.8 Z" fill="url(#hg)"/><rect x="627.8" y="185.9" width="4.4" height="18.400000000000002" fill="#5b9bf6"/><text x="526.04" y="198.30" font-size="9.1" fill="#fff" font-weight="bold" textLength="91.01" lengthAdjust="spacingAndGlyphs" word-spacing="2.6">선발투수 퀄리티분석</text><path d="M16,418.2 L128.3,418.2 L147.8,438.0 L16,438.0 Z" fill="url(#hg)"/><rect x="16.6" y="419.09999999999997" width="5.4" height="18.400000000000002" fill="#f7a300"/><text x="31.35" y="431.50" font-size="9.1" fill="#fff" font-weight="bold" textLength="84.31" lengthAdjust="spacingAndGlyphs" word-spacing="2.6">선발투수 최근 성적</text><path d="M632.5,418.2 L520.8,418.2 L502,438.0 L632.5,438.0 Z" fill="url(#hg)"/><rect x="627.8" y="419.09999999999997" width="4.4" height="18.400000000000002" fill="#5b9bf6"/><text x="531.54" y="431.50" font-size="9.1" fill="#fff" font-weight="bold" textLength="85.51" lengthAdjust="spacingAndGlyphs" word-spacing="2.6">선발투수 최근 성적</text><path d="M16,595.3 L128.3,595.3 L147.8,615.0999999999999 L16,615.0999999999999 Z" fill="url(#hg)"/><rect x="16.6" y="596.1999999999999" width="5.4" height="18.400000000000002" fill="#f7a300"/><text x="31.35" y="608.60" font-size="9.1" fill="#fff" font-weight="bold" textLength="84.31" lengthAdjust="spacingAndGlyphs" word-spacing="2.6">선발투수 상대 성적</text><path d="M632.5,595.3 L520.8,595.3 L502,615.0999999999999 L632.5,615.0999999999999 Z" fill="url(#hg)"/><rect x="627.8" y="596.1999999999999" width="4.4" height="18.400000000000002" fill="#5b9bf6"/><text x="531.54" y="608.60" font-size="9.1" fill="#fff" font-weight="bold" textLength="85.51" lengthAdjust="spacingAndGlyphs" word-spacing="2.6">선발투수 상대 성적</text><g transform="translate(53.5,133) rotate(-31.5)" fill="#000" fill-opacity="0.1"><text x="-3" y="-17" font-size="14.5" textLength="56" lengthAdjust="spacingAndGlyphs">토토박사</text><text x="0" y="0" font-size="14" textLength="102" lengthAdjust="spacingAndGlyphs">totobaksa.com</text></g><g transform="translate(239.5,134) rotate(-31.5)" fill="#000" fill-opacity="0.1"><text x="-3" y="-17" font-size="14.5" textLength="56" lengthAdjust="spacingAndGlyphs">토토박사</text><text x="0" y="0" font-size="14" textLength="102" lengthAdjust="spacingAndGlyphs">totobaksa.com</text></g><g transform="translate(421.5,133) rotate(-31.5)" fill="#000" fill-opacity="0.1"><text x="-3" y="-17" font-size="14.5" textLength="56" lengthAdjust="spacingAndGlyphs">토토박사</text><text x="0" y="0" font-size="14" textLength="102" lengthAdjust="spacingAndGlyphs">totobaksa.com</text></g><g transform="translate(612.5,133) rotate(-31.5)" fill="#000" fill-opacity="0.1"><text x="-3" y="-17" font-size="14.5" textLength="56" lengthAdjust="spacingAndGlyphs">토토박사</text><text x="0" y="0" font-size="14" textLength="102" lengthAdjust="spacingAndGlyphs">totobaksa.com</text></g><g transform="translate(51.5,320) rotate(-31.5)" fill="#000" fill-opacity="0.1"><text x="-3" y="-17" font-size="14.5" textLength="56" lengthAdjust="spacingAndGlyphs">토토박사</text><text x="0" y="0" font-size="14" textLength="102" lengthAdjust="spacingAndGlyphs">totobaksa.com</text></g><g transform="translate(238.5,319) rotate(-31.5)" fill="#000" fill-opacity="0.1"><text x="-3" y="-17" font-size="14.5" textLength="56" lengthAdjust="spacingAndGlyphs">토토박사</text><text x="0" y="0" font-size="14" textLength="102" lengthAdjust="spacingAndGlyphs">totobaksa.com</text></g><g transform="translate(423.5,318) rotate(-31.5)" fill="#000" fill-opacity="0.1"><text x="-3" y="-17" font-size="14.5" textLength="56" lengthAdjust="spacingAndGlyphs">토토박사</text><text x="0" y="0" font-size="14" textLength="102" lengthAdjust="spacingAndGlyphs">totobaksa.com</text></g><g transform="translate(606.5,318) rotate(-31.5)" fill="#000" fill-opacity="0.1"><text x="-3" y="-17" font-size="14.5" textLength="56" lengthAdjust="spacingAndGlyphs">토토박사</text><text x="0" y="0" font-size="14" textLength="102" lengthAdjust="spacingAndGlyphs">totobaksa.com</text></g><g transform="translate(53.5,508) rotate(-31.5)" fill="#000" fill-opacity="0.1"><text x="-3" y="-17" font-size="14.5" textLength="56" lengthAdjust="spacingAndGlyphs">토토박사</text><text x="0" y="0" font-size="14" textLength="102" lengthAdjust="spacingAndGlyphs">totobaksa.com</text></g><g transform="translate(237.5,503) rotate(-31.5)" fill="#000" fill-opacity="0.1"><text x="-3" y="-17" font-size="14.5" textLength="56" lengthAdjust="spacingAndGlyphs">토토박사</text><text x="0" y="0" font-size="14" textLength="102" lengthAdjust="spacingAndGlyphs">totobaksa.com</text></g><g transform="translate(423.5,506) rotate(-31.5)" fill="#000" fill-opacity="0.1"><text x="-3" y="-17" font-size="14.5" textLength="56" lengthAdjust="spacingAndGlyphs">토토박사</text><text x="0" y="0" font-size="14" textLength="102" lengthAdjust="spacingAndGlyphs">totobaksa.com</text></g><g transform="translate(610.5,505) rotate(-31.5)" fill="#000" fill-opacity="0.1"><text x="-3" y="-17" font-size="14.5" textLength="56" lengthAdjust="spacingAndGlyphs">토토박사</text><text x="0" y="0" font-size="14" textLength="102" lengthAdjust="spacingAndGlyphs">totobaksa.com</text></g><g transform="translate(53.5,689) rotate(-31.5)" fill="#000" fill-opacity="0.1"><text x="-3" y="-17" font-size="14.5" textLength="56" lengthAdjust="spacingAndGlyphs">토토박사</text><text x="0" y="0" font-size="14" textLength="102" lengthAdjust="spacingAndGlyphs">totobaksa.com</text></g><g transform="translate(237.5,688) rotate(-31.5)" fill="#000" fill-opacity="0.1"><text x="-3" y="-17" font-size="14.5" textLength="56" lengthAdjust="spacingAndGlyphs">토토박사</text><text x="0" y="0" font-size="14" textLength="102" lengthAdjust="spacingAndGlyphs">totobaksa.com</text></g><g transform="translate(424.5,688) rotate(-31.5)" fill="#000" fill-opacity="0.1"><text x="-3" y="-17" font-size="14.5" textLength="56" lengthAdjust="spacingAndGlyphs">토토박사</text><text x="0" y="0" font-size="14" textLength="102" lengthAdjust="spacingAndGlyphs">totobaksa.com</text></g><g transform="translate(609.5,689) rotate(-31.5)" fill="#000" fill-opacity="0.1"><text x="-3" y="-17" font-size="14.5" textLength="56" lengthAdjust="spacingAndGlyphs">토토박사</text><text x="0" y="0" font-size="14" textLength="102" lengthAdjust="spacingAndGlyphs">totobaksa.com</text></g></svg>
</body></html>
